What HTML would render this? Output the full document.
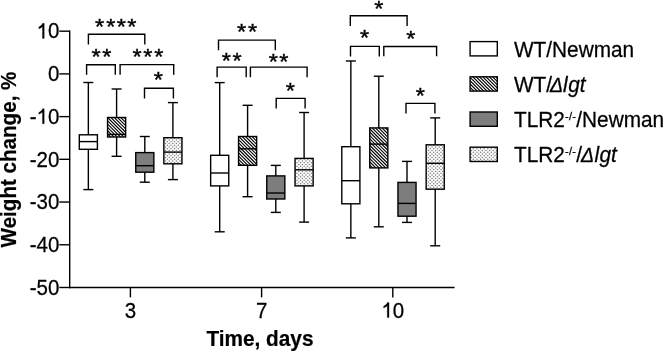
<!DOCTYPE html>
<html><head><meta charset="utf-8"><style>
html,body{margin:0;padding:0;background:#fff;overflow:hidden;width:663px;height:351px;}
svg{display:block;will-change:transform;}
text{font-family:"Liberation Sans",sans-serif;}
</style></head><body>
<svg width="663" height="351" viewBox="0 0 663 351">
<rect width="663" height="351" fill="#fff"/>

<g stroke="#000" stroke-width="1.4" fill="none" stroke-linecap="butt">
<line x1="69.7" y1="30.5" x2="69.7" y2="288.2" />
<line x1="69" y1="287.5" x2="454.6" y2="287.5" />
<line x1="59.3" y1="31.18" x2="69.7" y2="31.18" />
<line x1="59.3" y1="73.90" x2="69.7" y2="73.90" />
<line x1="59.3" y1="116.62" x2="69.7" y2="116.62" />
<line x1="59.3" y1="159.33" x2="69.7" y2="159.33" />
<line x1="59.3" y1="202.05" x2="69.7" y2="202.05" />
<line x1="59.3" y1="244.77" x2="69.7" y2="244.77" />
<line x1="59.3" y1="287.49" x2="69.7" y2="287.49" />
<line x1="130.4" y1="287.5" x2="130.4" y2="297.4" />
<line x1="261.6" y1="287.5" x2="261.6" y2="297.4" />
<line x1="392.8" y1="287.5" x2="392.8" y2="297.4" />
<line x1="88.35" y1="82.5" x2="88.35" y2="134.8" />
<line x1="88.35" y1="149.3" x2="88.35" y2="189.6" />
<line x1="83.35" y1="82.5" x2="93.35" y2="82.5" />
<line x1="83.35" y1="189.6" x2="93.35" y2="189.6" />
<rect x="79.30" y="134.80" width="18.10" height="14.50" fill="#fff" stroke="none"/>
<rect x="79.30" y="134.8" width="18.10" height="14.50" fill="none" />
<line x1="79.30" y1="141.6" x2="97.40" y2="141.6" />
<line x1="116.6" y1="89.0" x2="116.6" y2="117.5" />
<line x1="116.6" y1="137.0" x2="116.6" y2="156.3" />
<line x1="111.6" y1="89.0" x2="121.6" y2="89.0" />
<line x1="111.6" y1="156.3" x2="121.6" y2="156.3" />
<g clip-path="url(#c1)"><rect x="107.55" y="117.50" width="18.10" height="19.50" fill="#fff" stroke="none"/><path d="M82.50 115.50L106.00 139.00M85.80 115.50L109.30 139.00M89.10 115.50L112.60 139.00M92.40 115.50L115.90 139.00M95.70 115.50L119.20 139.00M99.00 115.50L122.50 139.00M102.30 115.50L125.80 139.00M105.60 115.50L129.10 139.00M108.90 115.50L132.40 139.00M112.20 115.50L135.70 139.00M115.50 115.50L139.00 139.00M118.80 115.50L142.30 139.00M122.10 115.50L145.60 139.00M125.40 115.50L148.90 139.00M128.70 115.50L152.20 139.00" stroke="#000" stroke-width="1.15" fill="none"/></g>
<rect x="107.55" y="117.5" width="18.10" height="19.50" fill="none" />
<line x1="107.55" y1="134.4" x2="125.65" y2="134.4" />
<line x1="144.8" y1="136.5" x2="144.8" y2="152.6" />
<line x1="144.8" y1="172.2" x2="144.8" y2="182.2" />
<line x1="139.8" y1="136.5" x2="149.8" y2="136.5" />
<line x1="139.8" y1="182.2" x2="149.8" y2="182.2" />
<rect x="135.75" y="152.60" width="18.10" height="19.60" fill="#7d7d7d" stroke="none"/>
<rect x="135.75" y="152.6" width="18.10" height="19.60" fill="none" />
<line x1="135.75" y1="165.7" x2="153.85" y2="165.7" />
<line x1="172.9" y1="102.6" x2="172.9" y2="137.7" />
<line x1="172.9" y1="163.8" x2="172.9" y2="179.6" />
<line x1="167.9" y1="102.6" x2="177.9" y2="102.6" />
<line x1="167.9" y1="179.6" x2="177.9" y2="179.6" />
<g clip-path="url(#c2)"><rect x="163.85" y="137.70" width="18.10" height="26.10" fill="#fff" stroke="none"/><path d="M159.40 134.75a0.8 0.8 0 1 0 1.60 0a0.8 0.8 0 1 0 -1.60 0M163.00 134.75a0.8 0.8 0 1 0 1.60 0a0.8 0.8 0 1 0 -1.60 0M166.60 134.75a0.8 0.8 0 1 0 1.60 0a0.8 0.8 0 1 0 -1.60 0M170.20 134.75a0.8 0.8 0 1 0 1.60 0a0.8 0.8 0 1 0 -1.60 0M173.80 134.75a0.8 0.8 0 1 0 1.60 0a0.8 0.8 0 1 0 -1.60 0M177.40 134.75a0.8 0.8 0 1 0 1.60 0a0.8 0.8 0 1 0 -1.60 0M181.00 134.75a0.8 0.8 0 1 0 1.60 0a0.8 0.8 0 1 0 -1.60 0M184.60 134.75a0.8 0.8 0 1 0 1.60 0a0.8 0.8 0 1 0 -1.60 0M188.20 134.75a0.8 0.8 0 1 0 1.60 0a0.8 0.8 0 1 0 -1.60 0M157.60 136.50a0.8 0.8 0 1 0 1.60 0a0.8 0.8 0 1 0 -1.60 0M161.20 136.50a0.8 0.8 0 1 0 1.60 0a0.8 0.8 0 1 0 -1.60 0M164.80 136.50a0.8 0.8 0 1 0 1.60 0a0.8 0.8 0 1 0 -1.60 0M168.40 136.50a0.8 0.8 0 1 0 1.60 0a0.8 0.8 0 1 0 -1.60 0M172.00 136.50a0.8 0.8 0 1 0 1.60 0a0.8 0.8 0 1 0 -1.60 0M175.60 136.50a0.8 0.8 0 1 0 1.60 0a0.8 0.8 0 1 0 -1.60 0M179.20 136.50a0.8 0.8 0 1 0 1.60 0a0.8 0.8 0 1 0 -1.60 0M182.80 136.50a0.8 0.8 0 1 0 1.60 0a0.8 0.8 0 1 0 -1.60 0M186.40 136.50a0.8 0.8 0 1 0 1.60 0a0.8 0.8 0 1 0 -1.60 0M159.40 138.25a0.8 0.8 0 1 0 1.60 0a0.8 0.8 0 1 0 -1.60 0M163.00 138.25a0.8 0.8 0 1 0 1.60 0a0.8 0.8 0 1 0 -1.60 0M166.60 138.25a0.8 0.8 0 1 0 1.60 0a0.8 0.8 0 1 0 -1.60 0M170.20 138.25a0.8 0.8 0 1 0 1.60 0a0.8 0.8 0 1 0 -1.60 0M173.80 138.25a0.8 0.8 0 1 0 1.60 0a0.8 0.8 0 1 0 -1.60 0M177.40 138.25a0.8 0.8 0 1 0 1.60 0a0.8 0.8 0 1 0 -1.60 0M181.00 138.25a0.8 0.8 0 1 0 1.60 0a0.8 0.8 0 1 0 -1.60 0M184.60 138.25a0.8 0.8 0 1 0 1.60 0a0.8 0.8 0 1 0 -1.60 0M188.20 138.25a0.8 0.8 0 1 0 1.60 0a0.8 0.8 0 1 0 -1.60 0M157.60 140.00a0.8 0.8 0 1 0 1.60 0a0.8 0.8 0 1 0 -1.60 0M161.20 140.00a0.8 0.8 0 1 0 1.60 0a0.8 0.8 0 1 0 -1.60 0M164.80 140.00a0.8 0.8 0 1 0 1.60 0a0.8 0.8 0 1 0 -1.60 0M168.40 140.00a0.8 0.8 0 1 0 1.60 0a0.8 0.8 0 1 0 -1.60 0M172.00 140.00a0.8 0.8 0 1 0 1.60 0a0.8 0.8 0 1 0 -1.60 0M175.60 140.00a0.8 0.8 0 1 0 1.60 0a0.8 0.8 0 1 0 -1.60 0M179.20 140.00a0.8 0.8 0 1 0 1.60 0a0.8 0.8 0 1 0 -1.60 0M182.80 140.00a0.8 0.8 0 1 0 1.60 0a0.8 0.8 0 1 0 -1.60 0M186.40 140.00a0.8 0.8 0 1 0 1.60 0a0.8 0.8 0 1 0 -1.60 0M159.40 141.75a0.8 0.8 0 1 0 1.60 0a0.8 0.8 0 1 0 -1.60 0M163.00 141.75a0.8 0.8 0 1 0 1.60 0a0.8 0.8 0 1 0 -1.60 0M166.60 141.75a0.8 0.8 0 1 0 1.60 0a0.8 0.8 0 1 0 -1.60 0M170.20 141.75a0.8 0.8 0 1 0 1.60 0a0.8 0.8 0 1 0 -1.60 0M173.80 141.75a0.8 0.8 0 1 0 1.60 0a0.8 0.8 0 1 0 -1.60 0M177.40 141.75a0.8 0.8 0 1 0 1.60 0a0.8 0.8 0 1 0 -1.60 0M181.00 141.75a0.8 0.8 0 1 0 1.60 0a0.8 0.8 0 1 0 -1.60 0M184.60 141.75a0.8 0.8 0 1 0 1.60 0a0.8 0.8 0 1 0 -1.60 0M188.20 141.75a0.8 0.8 0 1 0 1.60 0a0.8 0.8 0 1 0 -1.60 0M157.60 143.50a0.8 0.8 0 1 0 1.60 0a0.8 0.8 0 1 0 -1.60 0M161.20 143.50a0.8 0.8 0 1 0 1.60 0a0.8 0.8 0 1 0 -1.60 0M164.80 143.50a0.8 0.8 0 1 0 1.60 0a0.8 0.8 0 1 0 -1.60 0M168.40 143.50a0.8 0.8 0 1 0 1.60 0a0.8 0.8 0 1 0 -1.60 0M172.00 143.50a0.8 0.8 0 1 0 1.60 0a0.8 0.8 0 1 0 -1.60 0M175.60 143.50a0.8 0.8 0 1 0 1.60 0a0.8 0.8 0 1 0 -1.60 0M179.20 143.50a0.8 0.8 0 1 0 1.60 0a0.8 0.8 0 1 0 -1.60 0M182.80 143.50a0.8 0.8 0 1 0 1.60 0a0.8 0.8 0 1 0 -1.60 0M186.40 143.50a0.8 0.8 0 1 0 1.60 0a0.8 0.8 0 1 0 -1.60 0M159.40 145.25a0.8 0.8 0 1 0 1.60 0a0.8 0.8 0 1 0 -1.60 0M163.00 145.25a0.8 0.8 0 1 0 1.60 0a0.8 0.8 0 1 0 -1.60 0M166.60 145.25a0.8 0.8 0 1 0 1.60 0a0.8 0.8 0 1 0 -1.60 0M170.20 145.25a0.8 0.8 0 1 0 1.60 0a0.8 0.8 0 1 0 -1.60 0M173.80 145.25a0.8 0.8 0 1 0 1.60 0a0.8 0.8 0 1 0 -1.60 0M177.40 145.25a0.8 0.8 0 1 0 1.60 0a0.8 0.8 0 1 0 -1.60 0M181.00 145.25a0.8 0.8 0 1 0 1.60 0a0.8 0.8 0 1 0 -1.60 0M184.60 145.25a0.8 0.8 0 1 0 1.60 0a0.8 0.8 0 1 0 -1.60 0M188.20 145.25a0.8 0.8 0 1 0 1.60 0a0.8 0.8 0 1 0 -1.60 0M157.60 147.00a0.8 0.8 0 1 0 1.60 0a0.8 0.8 0 1 0 -1.60 0M161.20 147.00a0.8 0.8 0 1 0 1.60 0a0.8 0.8 0 1 0 -1.60 0M164.80 147.00a0.8 0.8 0 1 0 1.60 0a0.8 0.8 0 1 0 -1.60 0M168.40 147.00a0.8 0.8 0 1 0 1.60 0a0.8 0.8 0 1 0 -1.60 0M172.00 147.00a0.8 0.8 0 1 0 1.60 0a0.8 0.8 0 1 0 -1.60 0M175.60 147.00a0.8 0.8 0 1 0 1.60 0a0.8 0.8 0 1 0 -1.60 0M179.20 147.00a0.8 0.8 0 1 0 1.60 0a0.8 0.8 0 1 0 -1.60 0M182.80 147.00a0.8 0.8 0 1 0 1.60 0a0.8 0.8 0 1 0 -1.60 0M186.40 147.00a0.8 0.8 0 1 0 1.60 0a0.8 0.8 0 1 0 -1.60 0M159.40 148.75a0.8 0.8 0 1 0 1.60 0a0.8 0.8 0 1 0 -1.60 0M163.00 148.75a0.8 0.8 0 1 0 1.60 0a0.8 0.8 0 1 0 -1.60 0M166.60 148.75a0.8 0.8 0 1 0 1.60 0a0.8 0.8 0 1 0 -1.60 0M170.20 148.75a0.8 0.8 0 1 0 1.60 0a0.8 0.8 0 1 0 -1.60 0M173.80 148.75a0.8 0.8 0 1 0 1.60 0a0.8 0.8 0 1 0 -1.60 0M177.40 148.75a0.8 0.8 0 1 0 1.60 0a0.8 0.8 0 1 0 -1.60 0M181.00 148.75a0.8 0.8 0 1 0 1.60 0a0.8 0.8 0 1 0 -1.60 0M184.60 148.75a0.8 0.8 0 1 0 1.60 0a0.8 0.8 0 1 0 -1.60 0M188.20 148.75a0.8 0.8 0 1 0 1.60 0a0.8 0.8 0 1 0 -1.60 0M157.60 150.50a0.8 0.8 0 1 0 1.60 0a0.8 0.8 0 1 0 -1.60 0M161.20 150.50a0.8 0.8 0 1 0 1.60 0a0.8 0.8 0 1 0 -1.60 0M164.80 150.50a0.8 0.8 0 1 0 1.60 0a0.8 0.8 0 1 0 -1.60 0M168.40 150.50a0.8 0.8 0 1 0 1.60 0a0.8 0.8 0 1 0 -1.60 0M172.00 150.50a0.8 0.8 0 1 0 1.60 0a0.8 0.8 0 1 0 -1.60 0M175.60 150.50a0.8 0.8 0 1 0 1.60 0a0.8 0.8 0 1 0 -1.60 0M179.20 150.50a0.8 0.8 0 1 0 1.60 0a0.8 0.8 0 1 0 -1.60 0M182.80 150.50a0.8 0.8 0 1 0 1.60 0a0.8 0.8 0 1 0 -1.60 0M186.40 150.50a0.8 0.8 0 1 0 1.60 0a0.8 0.8 0 1 0 -1.60 0M159.40 152.25a0.8 0.8 0 1 0 1.60 0a0.8 0.8 0 1 0 -1.60 0M163.00 152.25a0.8 0.8 0 1 0 1.60 0a0.8 0.8 0 1 0 -1.60 0M166.60 152.25a0.8 0.8 0 1 0 1.60 0a0.8 0.8 0 1 0 -1.60 0M170.20 152.25a0.8 0.8 0 1 0 1.60 0a0.8 0.8 0 1 0 -1.60 0M173.80 152.25a0.8 0.8 0 1 0 1.60 0a0.8 0.8 0 1 0 -1.60 0M177.40 152.25a0.8 0.8 0 1 0 1.60 0a0.8 0.8 0 1 0 -1.60 0M181.00 152.25a0.8 0.8 0 1 0 1.60 0a0.8 0.8 0 1 0 -1.60 0M184.60 152.25a0.8 0.8 0 1 0 1.60 0a0.8 0.8 0 1 0 -1.60 0M188.20 152.25a0.8 0.8 0 1 0 1.60 0a0.8 0.8 0 1 0 -1.60 0M157.60 154.00a0.8 0.8 0 1 0 1.60 0a0.8 0.8 0 1 0 -1.60 0M161.20 154.00a0.8 0.8 0 1 0 1.60 0a0.8 0.8 0 1 0 -1.60 0M164.80 154.00a0.8 0.8 0 1 0 1.60 0a0.8 0.8 0 1 0 -1.60 0M168.40 154.00a0.8 0.8 0 1 0 1.60 0a0.8 0.8 0 1 0 -1.60 0M172.00 154.00a0.8 0.8 0 1 0 1.60 0a0.8 0.8 0 1 0 -1.60 0M175.60 154.00a0.8 0.8 0 1 0 1.60 0a0.8 0.8 0 1 0 -1.60 0M179.20 154.00a0.8 0.8 0 1 0 1.60 0a0.8 0.8 0 1 0 -1.60 0M182.80 154.00a0.8 0.8 0 1 0 1.60 0a0.8 0.8 0 1 0 -1.60 0M186.40 154.00a0.8 0.8 0 1 0 1.60 0a0.8 0.8 0 1 0 -1.60 0M159.40 155.75a0.8 0.8 0 1 0 1.60 0a0.8 0.8 0 1 0 -1.60 0M163.00 155.75a0.8 0.8 0 1 0 1.60 0a0.8 0.8 0 1 0 -1.60 0M166.60 155.75a0.8 0.8 0 1 0 1.60 0a0.8 0.8 0 1 0 -1.60 0M170.20 155.75a0.8 0.8 0 1 0 1.60 0a0.8 0.8 0 1 0 -1.60 0M173.80 155.75a0.8 0.8 0 1 0 1.60 0a0.8 0.8 0 1 0 -1.60 0M177.40 155.75a0.8 0.8 0 1 0 1.60 0a0.8 0.8 0 1 0 -1.60 0M181.00 155.75a0.8 0.8 0 1 0 1.60 0a0.8 0.8 0 1 0 -1.60 0M184.60 155.75a0.8 0.8 0 1 0 1.60 0a0.8 0.8 0 1 0 -1.60 0M188.20 155.75a0.8 0.8 0 1 0 1.60 0a0.8 0.8 0 1 0 -1.60 0M157.60 157.50a0.8 0.8 0 1 0 1.60 0a0.8 0.8 0 1 0 -1.60 0M161.20 157.50a0.8 0.8 0 1 0 1.60 0a0.8 0.8 0 1 0 -1.60 0M164.80 157.50a0.8 0.8 0 1 0 1.60 0a0.8 0.8 0 1 0 -1.60 0M168.40 157.50a0.8 0.8 0 1 0 1.60 0a0.8 0.8 0 1 0 -1.60 0M172.00 157.50a0.8 0.8 0 1 0 1.60 0a0.8 0.8 0 1 0 -1.60 0M175.60 157.50a0.8 0.8 0 1 0 1.60 0a0.8 0.8 0 1 0 -1.60 0M179.20 157.50a0.8 0.8 0 1 0 1.60 0a0.8 0.8 0 1 0 -1.60 0M182.80 157.50a0.8 0.8 0 1 0 1.60 0a0.8 0.8 0 1 0 -1.60 0M186.40 157.50a0.8 0.8 0 1 0 1.60 0a0.8 0.8 0 1 0 -1.60 0M159.40 159.25a0.8 0.8 0 1 0 1.60 0a0.8 0.8 0 1 0 -1.60 0M163.00 159.25a0.8 0.8 0 1 0 1.60 0a0.8 0.8 0 1 0 -1.60 0M166.60 159.25a0.8 0.8 0 1 0 1.60 0a0.8 0.8 0 1 0 -1.60 0M170.20 159.25a0.8 0.8 0 1 0 1.60 0a0.8 0.8 0 1 0 -1.60 0M173.80 159.25a0.8 0.8 0 1 0 1.60 0a0.8 0.8 0 1 0 -1.60 0M177.40 159.25a0.8 0.8 0 1 0 1.60 0a0.8 0.8 0 1 0 -1.60 0M181.00 159.25a0.8 0.8 0 1 0 1.60 0a0.8 0.8 0 1 0 -1.60 0M184.60 159.25a0.8 0.8 0 1 0 1.60 0a0.8 0.8 0 1 0 -1.60 0M188.20 159.25a0.8 0.8 0 1 0 1.60 0a0.8 0.8 0 1 0 -1.60 0M157.60 161.00a0.8 0.8 0 1 0 1.60 0a0.8 0.8 0 1 0 -1.60 0M161.20 161.00a0.8 0.8 0 1 0 1.60 0a0.8 0.8 0 1 0 -1.60 0M164.80 161.00a0.8 0.8 0 1 0 1.60 0a0.8 0.8 0 1 0 -1.60 0M168.40 161.00a0.8 0.8 0 1 0 1.60 0a0.8 0.8 0 1 0 -1.60 0M172.00 161.00a0.8 0.8 0 1 0 1.60 0a0.8 0.8 0 1 0 -1.60 0M175.60 161.00a0.8 0.8 0 1 0 1.60 0a0.8 0.8 0 1 0 -1.60 0M179.20 161.00a0.8 0.8 0 1 0 1.60 0a0.8 0.8 0 1 0 -1.60 0M182.80 161.00a0.8 0.8 0 1 0 1.60 0a0.8 0.8 0 1 0 -1.60 0M186.40 161.00a0.8 0.8 0 1 0 1.60 0a0.8 0.8 0 1 0 -1.60 0M159.40 162.75a0.8 0.8 0 1 0 1.60 0a0.8 0.8 0 1 0 -1.60 0M163.00 162.75a0.8 0.8 0 1 0 1.60 0a0.8 0.8 0 1 0 -1.60 0M166.60 162.75a0.8 0.8 0 1 0 1.60 0a0.8 0.8 0 1 0 -1.60 0M170.20 162.75a0.8 0.8 0 1 0 1.60 0a0.8 0.8 0 1 0 -1.60 0M173.80 162.75a0.8 0.8 0 1 0 1.60 0a0.8 0.8 0 1 0 -1.60 0M177.40 162.75a0.8 0.8 0 1 0 1.60 0a0.8 0.8 0 1 0 -1.60 0M181.00 162.75a0.8 0.8 0 1 0 1.60 0a0.8 0.8 0 1 0 -1.60 0M184.60 162.75a0.8 0.8 0 1 0 1.60 0a0.8 0.8 0 1 0 -1.60 0M188.20 162.75a0.8 0.8 0 1 0 1.60 0a0.8 0.8 0 1 0 -1.60 0M157.60 164.50a0.8 0.8 0 1 0 1.60 0a0.8 0.8 0 1 0 -1.60 0M161.20 164.50a0.8 0.8 0 1 0 1.60 0a0.8 0.8 0 1 0 -1.60 0M164.80 164.50a0.8 0.8 0 1 0 1.60 0a0.8 0.8 0 1 0 -1.60 0M168.40 164.50a0.8 0.8 0 1 0 1.60 0a0.8 0.8 0 1 0 -1.60 0M172.00 164.50a0.8 0.8 0 1 0 1.60 0a0.8 0.8 0 1 0 -1.60 0M175.60 164.50a0.8 0.8 0 1 0 1.60 0a0.8 0.8 0 1 0 -1.60 0M179.20 164.50a0.8 0.8 0 1 0 1.60 0a0.8 0.8 0 1 0 -1.60 0M182.80 164.50a0.8 0.8 0 1 0 1.60 0a0.8 0.8 0 1 0 -1.60 0M186.40 164.50a0.8 0.8 0 1 0 1.60 0a0.8 0.8 0 1 0 -1.60 0M159.40 166.25a0.8 0.8 0 1 0 1.60 0a0.8 0.8 0 1 0 -1.60 0M163.00 166.25a0.8 0.8 0 1 0 1.60 0a0.8 0.8 0 1 0 -1.60 0M166.60 166.25a0.8 0.8 0 1 0 1.60 0a0.8 0.8 0 1 0 -1.60 0M170.20 166.25a0.8 0.8 0 1 0 1.60 0a0.8 0.8 0 1 0 -1.60 0M173.80 166.25a0.8 0.8 0 1 0 1.60 0a0.8 0.8 0 1 0 -1.60 0M177.40 166.25a0.8 0.8 0 1 0 1.60 0a0.8 0.8 0 1 0 -1.60 0M181.00 166.25a0.8 0.8 0 1 0 1.60 0a0.8 0.8 0 1 0 -1.60 0M184.60 166.25a0.8 0.8 0 1 0 1.60 0a0.8 0.8 0 1 0 -1.60 0M188.20 166.25a0.8 0.8 0 1 0 1.60 0a0.8 0.8 0 1 0 -1.60 0" fill="#808080" stroke="none"/></g>
<rect x="163.85" y="137.7" width="18.10" height="26.10" fill="none" />
<line x1="163.85" y1="152.1" x2="181.95" y2="152.1" />
<line x1="219.7" y1="82.6" x2="219.7" y2="155.3" />
<line x1="219.7" y1="185.9" x2="219.7" y2="231.8" />
<line x1="214.7" y1="82.6" x2="224.7" y2="82.6" />
<line x1="214.7" y1="231.8" x2="224.7" y2="231.8" />
<rect x="210.65" y="155.30" width="18.10" height="30.60" fill="#fff" stroke="none"/>
<rect x="210.65" y="155.3" width="18.10" height="30.60" fill="none" />
<line x1="210.65" y1="173.0" x2="228.75" y2="173.0" />
<line x1="247.6" y1="105.3" x2="247.6" y2="136.5" />
<line x1="247.6" y1="165.3" x2="247.6" y2="196.7" />
<line x1="242.6" y1="105.3" x2="252.6" y2="105.3" />
<line x1="242.6" y1="196.7" x2="252.6" y2="196.7" />
<g clip-path="url(#c3)"><rect x="238.55" y="136.50" width="18.10" height="28.80" fill="#fff" stroke="none"/><path d="M203.80 134.50L236.60 167.30M207.10 134.50L239.90 167.30M210.40 134.50L243.20 167.30M213.70 134.50L246.50 167.30M217.00 134.50L249.80 167.30M220.30 134.50L253.10 167.30M223.60 134.50L256.40 167.30M226.90 134.50L259.70 167.30M230.20 134.50L263.00 167.30M233.50 134.50L266.30 167.30M236.80 134.50L269.60 167.30M240.10 134.50L272.90 167.30M243.40 134.50L276.20 167.30M246.70 134.50L279.50 167.30M250.00 134.50L282.80 167.30M253.30 134.50L286.10 167.30M256.60 134.50L289.40 167.30M259.90 134.50L292.70 167.30" stroke="#000" stroke-width="1.15" fill="none"/></g>
<rect x="238.55" y="136.5" width="18.10" height="28.80" fill="none" />
<line x1="238.55" y1="148.8" x2="256.65" y2="148.8" />
<line x1="275.8" y1="165.4" x2="275.8" y2="175.9" />
<line x1="275.8" y1="199.0" x2="275.8" y2="212.4" />
<line x1="270.8" y1="165.4" x2="280.8" y2="165.4" />
<line x1="270.8" y1="212.4" x2="280.8" y2="212.4" />
<rect x="266.75" y="175.90" width="18.10" height="23.10" fill="#7d7d7d" stroke="none"/>
<rect x="266.75" y="175.9" width="18.10" height="23.10" fill="none" />
<line x1="266.75" y1="193.0" x2="284.85" y2="193.0" />
<line x1="304.1" y1="112.5" x2="304.1" y2="158.4" />
<line x1="304.1" y1="185.9" x2="304.1" y2="222.1" />
<line x1="299.1" y1="112.5" x2="309.1" y2="112.5" />
<line x1="299.1" y1="222.1" x2="309.1" y2="222.1" />
<g clip-path="url(#c4)"><rect x="295.05" y="158.40" width="18.10" height="27.50" fill="#fff" stroke="none"/><path d="M289.00 155.75a0.8 0.8 0 1 0 1.60 0a0.8 0.8 0 1 0 -1.60 0M292.60 155.75a0.8 0.8 0 1 0 1.60 0a0.8 0.8 0 1 0 -1.60 0M296.20 155.75a0.8 0.8 0 1 0 1.60 0a0.8 0.8 0 1 0 -1.60 0M299.80 155.75a0.8 0.8 0 1 0 1.60 0a0.8 0.8 0 1 0 -1.60 0M303.40 155.75a0.8 0.8 0 1 0 1.60 0a0.8 0.8 0 1 0 -1.60 0M307.00 155.75a0.8 0.8 0 1 0 1.60 0a0.8 0.8 0 1 0 -1.60 0M310.60 155.75a0.8 0.8 0 1 0 1.60 0a0.8 0.8 0 1 0 -1.60 0M314.20 155.75a0.8 0.8 0 1 0 1.60 0a0.8 0.8 0 1 0 -1.60 0M317.80 155.75a0.8 0.8 0 1 0 1.60 0a0.8 0.8 0 1 0 -1.60 0M287.20 157.50a0.8 0.8 0 1 0 1.60 0a0.8 0.8 0 1 0 -1.60 0M290.80 157.50a0.8 0.8 0 1 0 1.60 0a0.8 0.8 0 1 0 -1.60 0M294.40 157.50a0.8 0.8 0 1 0 1.60 0a0.8 0.8 0 1 0 -1.60 0M298.00 157.50a0.8 0.8 0 1 0 1.60 0a0.8 0.8 0 1 0 -1.60 0M301.60 157.50a0.8 0.8 0 1 0 1.60 0a0.8 0.8 0 1 0 -1.60 0M305.20 157.50a0.8 0.8 0 1 0 1.60 0a0.8 0.8 0 1 0 -1.60 0M308.80 157.50a0.8 0.8 0 1 0 1.60 0a0.8 0.8 0 1 0 -1.60 0M312.40 157.50a0.8 0.8 0 1 0 1.60 0a0.8 0.8 0 1 0 -1.60 0M316.00 157.50a0.8 0.8 0 1 0 1.60 0a0.8 0.8 0 1 0 -1.60 0M289.00 159.25a0.8 0.8 0 1 0 1.60 0a0.8 0.8 0 1 0 -1.60 0M292.60 159.25a0.8 0.8 0 1 0 1.60 0a0.8 0.8 0 1 0 -1.60 0M296.20 159.25a0.8 0.8 0 1 0 1.60 0a0.8 0.8 0 1 0 -1.60 0M299.80 159.25a0.8 0.8 0 1 0 1.60 0a0.8 0.8 0 1 0 -1.60 0M303.40 159.25a0.8 0.8 0 1 0 1.60 0a0.8 0.8 0 1 0 -1.60 0M307.00 159.25a0.8 0.8 0 1 0 1.60 0a0.8 0.8 0 1 0 -1.60 0M310.60 159.25a0.8 0.8 0 1 0 1.60 0a0.8 0.8 0 1 0 -1.60 0M314.20 159.25a0.8 0.8 0 1 0 1.60 0a0.8 0.8 0 1 0 -1.60 0M317.80 159.25a0.8 0.8 0 1 0 1.60 0a0.8 0.8 0 1 0 -1.60 0M287.20 161.00a0.8 0.8 0 1 0 1.60 0a0.8 0.8 0 1 0 -1.60 0M290.80 161.00a0.8 0.8 0 1 0 1.60 0a0.8 0.8 0 1 0 -1.60 0M294.40 161.00a0.8 0.8 0 1 0 1.60 0a0.8 0.8 0 1 0 -1.60 0M298.00 161.00a0.8 0.8 0 1 0 1.60 0a0.8 0.8 0 1 0 -1.60 0M301.60 161.00a0.8 0.8 0 1 0 1.60 0a0.8 0.8 0 1 0 -1.60 0M305.20 161.00a0.8 0.8 0 1 0 1.60 0a0.8 0.8 0 1 0 -1.60 0M308.80 161.00a0.8 0.8 0 1 0 1.60 0a0.8 0.8 0 1 0 -1.60 0M312.40 161.00a0.8 0.8 0 1 0 1.60 0a0.8 0.8 0 1 0 -1.60 0M316.00 161.00a0.8 0.8 0 1 0 1.60 0a0.8 0.8 0 1 0 -1.60 0M289.00 162.75a0.8 0.8 0 1 0 1.60 0a0.8 0.8 0 1 0 -1.60 0M292.60 162.75a0.8 0.8 0 1 0 1.60 0a0.8 0.8 0 1 0 -1.60 0M296.20 162.75a0.8 0.8 0 1 0 1.60 0a0.8 0.8 0 1 0 -1.60 0M299.80 162.75a0.8 0.8 0 1 0 1.60 0a0.8 0.8 0 1 0 -1.60 0M303.40 162.75a0.8 0.8 0 1 0 1.60 0a0.8 0.8 0 1 0 -1.60 0M307.00 162.75a0.8 0.8 0 1 0 1.60 0a0.8 0.8 0 1 0 -1.60 0M310.60 162.75a0.8 0.8 0 1 0 1.60 0a0.8 0.8 0 1 0 -1.60 0M314.20 162.75a0.8 0.8 0 1 0 1.60 0a0.8 0.8 0 1 0 -1.60 0M317.80 162.75a0.8 0.8 0 1 0 1.60 0a0.8 0.8 0 1 0 -1.60 0M287.20 164.50a0.8 0.8 0 1 0 1.60 0a0.8 0.8 0 1 0 -1.60 0M290.80 164.50a0.8 0.8 0 1 0 1.60 0a0.8 0.8 0 1 0 -1.60 0M294.40 164.50a0.8 0.8 0 1 0 1.60 0a0.8 0.8 0 1 0 -1.60 0M298.00 164.50a0.8 0.8 0 1 0 1.60 0a0.8 0.8 0 1 0 -1.60 0M301.60 164.50a0.8 0.8 0 1 0 1.60 0a0.8 0.8 0 1 0 -1.60 0M305.20 164.50a0.8 0.8 0 1 0 1.60 0a0.8 0.8 0 1 0 -1.60 0M308.80 164.50a0.8 0.8 0 1 0 1.60 0a0.8 0.8 0 1 0 -1.60 0M312.40 164.50a0.8 0.8 0 1 0 1.60 0a0.8 0.8 0 1 0 -1.60 0M316.00 164.50a0.8 0.8 0 1 0 1.60 0a0.8 0.8 0 1 0 -1.60 0M289.00 166.25a0.8 0.8 0 1 0 1.60 0a0.8 0.8 0 1 0 -1.60 0M292.60 166.25a0.8 0.8 0 1 0 1.60 0a0.8 0.8 0 1 0 -1.60 0M296.20 166.25a0.8 0.8 0 1 0 1.60 0a0.8 0.8 0 1 0 -1.60 0M299.80 166.25a0.8 0.8 0 1 0 1.60 0a0.8 0.8 0 1 0 -1.60 0M303.40 166.25a0.8 0.8 0 1 0 1.60 0a0.8 0.8 0 1 0 -1.60 0M307.00 166.25a0.8 0.8 0 1 0 1.60 0a0.8 0.8 0 1 0 -1.60 0M310.60 166.25a0.8 0.8 0 1 0 1.60 0a0.8 0.8 0 1 0 -1.60 0M314.20 166.25a0.8 0.8 0 1 0 1.60 0a0.8 0.8 0 1 0 -1.60 0M317.80 166.25a0.8 0.8 0 1 0 1.60 0a0.8 0.8 0 1 0 -1.60 0M287.20 168.00a0.8 0.8 0 1 0 1.60 0a0.8 0.8 0 1 0 -1.60 0M290.80 168.00a0.8 0.8 0 1 0 1.60 0a0.8 0.8 0 1 0 -1.60 0M294.40 168.00a0.8 0.8 0 1 0 1.60 0a0.8 0.8 0 1 0 -1.60 0M298.00 168.00a0.8 0.8 0 1 0 1.60 0a0.8 0.8 0 1 0 -1.60 0M301.60 168.00a0.8 0.8 0 1 0 1.60 0a0.8 0.8 0 1 0 -1.60 0M305.20 168.00a0.8 0.8 0 1 0 1.60 0a0.8 0.8 0 1 0 -1.60 0M308.80 168.00a0.8 0.8 0 1 0 1.60 0a0.8 0.8 0 1 0 -1.60 0M312.40 168.00a0.8 0.8 0 1 0 1.60 0a0.8 0.8 0 1 0 -1.60 0M316.00 168.00a0.8 0.8 0 1 0 1.60 0a0.8 0.8 0 1 0 -1.60 0M289.00 169.75a0.8 0.8 0 1 0 1.60 0a0.8 0.8 0 1 0 -1.60 0M292.60 169.75a0.8 0.8 0 1 0 1.60 0a0.8 0.8 0 1 0 -1.60 0M296.20 169.75a0.8 0.8 0 1 0 1.60 0a0.8 0.8 0 1 0 -1.60 0M299.80 169.75a0.8 0.8 0 1 0 1.60 0a0.8 0.8 0 1 0 -1.60 0M303.40 169.75a0.8 0.8 0 1 0 1.60 0a0.8 0.8 0 1 0 -1.60 0M307.00 169.75a0.8 0.8 0 1 0 1.60 0a0.8 0.8 0 1 0 -1.60 0M310.60 169.75a0.8 0.8 0 1 0 1.60 0a0.8 0.8 0 1 0 -1.60 0M314.20 169.75a0.8 0.8 0 1 0 1.60 0a0.8 0.8 0 1 0 -1.60 0M317.80 169.75a0.8 0.8 0 1 0 1.60 0a0.8 0.8 0 1 0 -1.60 0M287.20 171.50a0.8 0.8 0 1 0 1.60 0a0.8 0.8 0 1 0 -1.60 0M290.80 171.50a0.8 0.8 0 1 0 1.60 0a0.8 0.8 0 1 0 -1.60 0M294.40 171.50a0.8 0.8 0 1 0 1.60 0a0.8 0.8 0 1 0 -1.60 0M298.00 171.50a0.8 0.8 0 1 0 1.60 0a0.8 0.8 0 1 0 -1.60 0M301.60 171.50a0.8 0.8 0 1 0 1.60 0a0.8 0.8 0 1 0 -1.60 0M305.20 171.50a0.8 0.8 0 1 0 1.60 0a0.8 0.8 0 1 0 -1.60 0M308.80 171.50a0.8 0.8 0 1 0 1.60 0a0.8 0.8 0 1 0 -1.60 0M312.40 171.50a0.8 0.8 0 1 0 1.60 0a0.8 0.8 0 1 0 -1.60 0M316.00 171.50a0.8 0.8 0 1 0 1.60 0a0.8 0.8 0 1 0 -1.60 0M289.00 173.25a0.8 0.8 0 1 0 1.60 0a0.8 0.8 0 1 0 -1.60 0M292.60 173.25a0.8 0.8 0 1 0 1.60 0a0.8 0.8 0 1 0 -1.60 0M296.20 173.25a0.8 0.8 0 1 0 1.60 0a0.8 0.8 0 1 0 -1.60 0M299.80 173.25a0.8 0.8 0 1 0 1.60 0a0.8 0.8 0 1 0 -1.60 0M303.40 173.25a0.8 0.8 0 1 0 1.60 0a0.8 0.8 0 1 0 -1.60 0M307.00 173.25a0.8 0.8 0 1 0 1.60 0a0.8 0.8 0 1 0 -1.60 0M310.60 173.25a0.8 0.8 0 1 0 1.60 0a0.8 0.8 0 1 0 -1.60 0M314.20 173.25a0.8 0.8 0 1 0 1.60 0a0.8 0.8 0 1 0 -1.60 0M317.80 173.25a0.8 0.8 0 1 0 1.60 0a0.8 0.8 0 1 0 -1.60 0M287.20 175.00a0.8 0.8 0 1 0 1.60 0a0.8 0.8 0 1 0 -1.60 0M290.80 175.00a0.8 0.8 0 1 0 1.60 0a0.8 0.8 0 1 0 -1.60 0M294.40 175.00a0.8 0.8 0 1 0 1.60 0a0.8 0.8 0 1 0 -1.60 0M298.00 175.00a0.8 0.8 0 1 0 1.60 0a0.8 0.8 0 1 0 -1.60 0M301.60 175.00a0.8 0.8 0 1 0 1.60 0a0.8 0.8 0 1 0 -1.60 0M305.20 175.00a0.8 0.8 0 1 0 1.60 0a0.8 0.8 0 1 0 -1.60 0M308.80 175.00a0.8 0.8 0 1 0 1.60 0a0.8 0.8 0 1 0 -1.60 0M312.40 175.00a0.8 0.8 0 1 0 1.60 0a0.8 0.8 0 1 0 -1.60 0M316.00 175.00a0.8 0.8 0 1 0 1.60 0a0.8 0.8 0 1 0 -1.60 0M289.00 176.75a0.8 0.8 0 1 0 1.60 0a0.8 0.8 0 1 0 -1.60 0M292.60 176.75a0.8 0.8 0 1 0 1.60 0a0.8 0.8 0 1 0 -1.60 0M296.20 176.75a0.8 0.8 0 1 0 1.60 0a0.8 0.8 0 1 0 -1.60 0M299.80 176.75a0.8 0.8 0 1 0 1.60 0a0.8 0.8 0 1 0 -1.60 0M303.40 176.75a0.8 0.8 0 1 0 1.60 0a0.8 0.8 0 1 0 -1.60 0M307.00 176.75a0.8 0.8 0 1 0 1.60 0a0.8 0.8 0 1 0 -1.60 0M310.60 176.75a0.8 0.8 0 1 0 1.60 0a0.8 0.8 0 1 0 -1.60 0M314.20 176.75a0.8 0.8 0 1 0 1.60 0a0.8 0.8 0 1 0 -1.60 0M317.80 176.75a0.8 0.8 0 1 0 1.60 0a0.8 0.8 0 1 0 -1.60 0M287.20 178.50a0.8 0.8 0 1 0 1.60 0a0.8 0.8 0 1 0 -1.60 0M290.80 178.50a0.8 0.8 0 1 0 1.60 0a0.8 0.8 0 1 0 -1.60 0M294.40 178.50a0.8 0.8 0 1 0 1.60 0a0.8 0.8 0 1 0 -1.60 0M298.00 178.50a0.8 0.8 0 1 0 1.60 0a0.8 0.8 0 1 0 -1.60 0M301.60 178.50a0.8 0.8 0 1 0 1.60 0a0.8 0.8 0 1 0 -1.60 0M305.20 178.50a0.8 0.8 0 1 0 1.60 0a0.8 0.8 0 1 0 -1.60 0M308.80 178.50a0.8 0.8 0 1 0 1.60 0a0.8 0.8 0 1 0 -1.60 0M312.40 178.50a0.8 0.8 0 1 0 1.60 0a0.8 0.8 0 1 0 -1.60 0M316.00 178.50a0.8 0.8 0 1 0 1.60 0a0.8 0.8 0 1 0 -1.60 0M289.00 180.25a0.8 0.8 0 1 0 1.60 0a0.8 0.8 0 1 0 -1.60 0M292.60 180.25a0.8 0.8 0 1 0 1.60 0a0.8 0.8 0 1 0 -1.60 0M296.20 180.25a0.8 0.8 0 1 0 1.60 0a0.8 0.8 0 1 0 -1.60 0M299.80 180.25a0.8 0.8 0 1 0 1.60 0a0.8 0.8 0 1 0 -1.60 0M303.40 180.25a0.8 0.8 0 1 0 1.60 0a0.8 0.8 0 1 0 -1.60 0M307.00 180.25a0.8 0.8 0 1 0 1.60 0a0.8 0.8 0 1 0 -1.60 0M310.60 180.25a0.8 0.8 0 1 0 1.60 0a0.8 0.8 0 1 0 -1.60 0M314.20 180.25a0.8 0.8 0 1 0 1.60 0a0.8 0.8 0 1 0 -1.60 0M317.80 180.25a0.8 0.8 0 1 0 1.60 0a0.8 0.8 0 1 0 -1.60 0M287.20 182.00a0.8 0.8 0 1 0 1.60 0a0.8 0.8 0 1 0 -1.60 0M290.80 182.00a0.8 0.8 0 1 0 1.60 0a0.8 0.8 0 1 0 -1.60 0M294.40 182.00a0.8 0.8 0 1 0 1.60 0a0.8 0.8 0 1 0 -1.60 0M298.00 182.00a0.8 0.8 0 1 0 1.60 0a0.8 0.8 0 1 0 -1.60 0M301.60 182.00a0.8 0.8 0 1 0 1.60 0a0.8 0.8 0 1 0 -1.60 0M305.20 182.00a0.8 0.8 0 1 0 1.60 0a0.8 0.8 0 1 0 -1.60 0M308.80 182.00a0.8 0.8 0 1 0 1.60 0a0.8 0.8 0 1 0 -1.60 0M312.40 182.00a0.8 0.8 0 1 0 1.60 0a0.8 0.8 0 1 0 -1.60 0M316.00 182.00a0.8 0.8 0 1 0 1.60 0a0.8 0.8 0 1 0 -1.60 0M289.00 183.75a0.8 0.8 0 1 0 1.60 0a0.8 0.8 0 1 0 -1.60 0M292.60 183.75a0.8 0.8 0 1 0 1.60 0a0.8 0.8 0 1 0 -1.60 0M296.20 183.75a0.8 0.8 0 1 0 1.60 0a0.8 0.8 0 1 0 -1.60 0M299.80 183.75a0.8 0.8 0 1 0 1.60 0a0.8 0.8 0 1 0 -1.60 0M303.40 183.75a0.8 0.8 0 1 0 1.60 0a0.8 0.8 0 1 0 -1.60 0M307.00 183.75a0.8 0.8 0 1 0 1.60 0a0.8 0.8 0 1 0 -1.60 0M310.60 183.75a0.8 0.8 0 1 0 1.60 0a0.8 0.8 0 1 0 -1.60 0M314.20 183.75a0.8 0.8 0 1 0 1.60 0a0.8 0.8 0 1 0 -1.60 0M317.80 183.75a0.8 0.8 0 1 0 1.60 0a0.8 0.8 0 1 0 -1.60 0M287.20 185.50a0.8 0.8 0 1 0 1.60 0a0.8 0.8 0 1 0 -1.60 0M290.80 185.50a0.8 0.8 0 1 0 1.60 0a0.8 0.8 0 1 0 -1.60 0M294.40 185.50a0.8 0.8 0 1 0 1.60 0a0.8 0.8 0 1 0 -1.60 0M298.00 185.50a0.8 0.8 0 1 0 1.60 0a0.8 0.8 0 1 0 -1.60 0M301.60 185.50a0.8 0.8 0 1 0 1.60 0a0.8 0.8 0 1 0 -1.60 0M305.20 185.50a0.8 0.8 0 1 0 1.60 0a0.8 0.8 0 1 0 -1.60 0M308.80 185.50a0.8 0.8 0 1 0 1.60 0a0.8 0.8 0 1 0 -1.60 0M312.40 185.50a0.8 0.8 0 1 0 1.60 0a0.8 0.8 0 1 0 -1.60 0M316.00 185.50a0.8 0.8 0 1 0 1.60 0a0.8 0.8 0 1 0 -1.60 0M289.00 187.25a0.8 0.8 0 1 0 1.60 0a0.8 0.8 0 1 0 -1.60 0M292.60 187.25a0.8 0.8 0 1 0 1.60 0a0.8 0.8 0 1 0 -1.60 0M296.20 187.25a0.8 0.8 0 1 0 1.60 0a0.8 0.8 0 1 0 -1.60 0M299.80 187.25a0.8 0.8 0 1 0 1.60 0a0.8 0.8 0 1 0 -1.60 0M303.40 187.25a0.8 0.8 0 1 0 1.60 0a0.8 0.8 0 1 0 -1.60 0M307.00 187.25a0.8 0.8 0 1 0 1.60 0a0.8 0.8 0 1 0 -1.60 0M310.60 187.25a0.8 0.8 0 1 0 1.60 0a0.8 0.8 0 1 0 -1.60 0M314.20 187.25a0.8 0.8 0 1 0 1.60 0a0.8 0.8 0 1 0 -1.60 0M317.80 187.25a0.8 0.8 0 1 0 1.60 0a0.8 0.8 0 1 0 -1.60 0M287.20 189.00a0.8 0.8 0 1 0 1.60 0a0.8 0.8 0 1 0 -1.60 0M290.80 189.00a0.8 0.8 0 1 0 1.60 0a0.8 0.8 0 1 0 -1.60 0M294.40 189.00a0.8 0.8 0 1 0 1.60 0a0.8 0.8 0 1 0 -1.60 0M298.00 189.00a0.8 0.8 0 1 0 1.60 0a0.8 0.8 0 1 0 -1.60 0M301.60 189.00a0.8 0.8 0 1 0 1.60 0a0.8 0.8 0 1 0 -1.60 0M305.20 189.00a0.8 0.8 0 1 0 1.60 0a0.8 0.8 0 1 0 -1.60 0M308.80 189.00a0.8 0.8 0 1 0 1.60 0a0.8 0.8 0 1 0 -1.60 0M312.40 189.00a0.8 0.8 0 1 0 1.60 0a0.8 0.8 0 1 0 -1.60 0M316.00 189.00a0.8 0.8 0 1 0 1.60 0a0.8 0.8 0 1 0 -1.60 0" fill="#808080" stroke="none"/></g>
<rect x="295.05" y="158.4" width="18.10" height="27.50" fill="none" />
<line x1="295.05" y1="169.8" x2="313.15" y2="169.8" />
<line x1="350.85" y1="61.0" x2="350.85" y2="146.7" />
<line x1="350.85" y1="203.8" x2="350.85" y2="237.9" />
<line x1="345.85" y1="61.0" x2="355.85" y2="61.0" />
<line x1="345.85" y1="237.9" x2="355.85" y2="237.9" />
<rect x="341.80" y="146.70" width="18.10" height="57.10" fill="#fff" stroke="none"/>
<rect x="341.80" y="146.7" width="18.10" height="57.10" fill="none" />
<line x1="341.80" y1="180.7" x2="359.90" y2="180.7" />
<line x1="378.8" y1="76.2" x2="378.8" y2="127.9" />
<line x1="378.8" y1="167.9" x2="378.8" y2="226.8" />
<line x1="373.8" y1="76.2" x2="383.8" y2="76.2" />
<line x1="373.8" y1="226.8" x2="383.8" y2="226.8" />
<g clip-path="url(#c5)"><rect x="369.75" y="127.90" width="18.10" height="40.00" fill="#fff" stroke="none"/><path d="M323.90 125.90L367.90 169.90M327.20 125.90L371.20 169.90M330.50 125.90L374.50 169.90M333.80 125.90L377.80 169.90M337.10 125.90L381.10 169.90M340.40 125.90L384.40 169.90M343.70 125.90L387.70 169.90M347.00 125.90L391.00 169.90M350.30 125.90L394.30 169.90M353.60 125.90L397.60 169.90M356.90 125.90L400.90 169.90M360.20 125.90L404.20 169.90M363.50 125.90L407.50 169.90M366.80 125.90L410.80 169.90M370.10 125.90L414.10 169.90M373.40 125.90L417.40 169.90M376.70 125.90L420.70 169.90M380.00 125.90L424.00 169.90M383.30 125.90L427.30 169.90M386.60 125.90L430.60 169.90M389.90 125.90L433.90 169.90" stroke="#000" stroke-width="1.15" fill="none"/></g>
<rect x="369.75" y="127.9" width="18.10" height="40.00" fill="none" />
<line x1="369.75" y1="144.1" x2="387.85" y2="144.1" />
<line x1="407.0" y1="161.4" x2="407.0" y2="182.4" />
<line x1="407.0" y1="216.2" x2="407.0" y2="222.4" />
<line x1="402.0" y1="161.4" x2="412.0" y2="161.4" />
<line x1="402.0" y1="222.4" x2="412.0" y2="222.4" />
<rect x="397.95" y="182.40" width="18.10" height="33.80" fill="#7d7d7d" stroke="none"/>
<rect x="397.95" y="182.4" width="18.10" height="33.80" fill="none" />
<line x1="397.95" y1="203.4" x2="416.05" y2="203.4" />
<line x1="435.2" y1="117.9" x2="435.2" y2="144.8" />
<line x1="435.2" y1="189.2" x2="435.2" y2="245.8" />
<line x1="430.2" y1="117.9" x2="440.2" y2="117.9" />
<line x1="430.2" y1="245.8" x2="440.2" y2="245.8" />
<g clip-path="url(#c6)"><rect x="426.15" y="144.80" width="18.10" height="44.40" fill="#fff" stroke="none"/><path d="M418.60 141.75a0.8 0.8 0 1 0 1.60 0a0.8 0.8 0 1 0 -1.60 0M422.20 141.75a0.8 0.8 0 1 0 1.60 0a0.8 0.8 0 1 0 -1.60 0M425.80 141.75a0.8 0.8 0 1 0 1.60 0a0.8 0.8 0 1 0 -1.60 0M429.40 141.75a0.8 0.8 0 1 0 1.60 0a0.8 0.8 0 1 0 -1.60 0M433.00 141.75a0.8 0.8 0 1 0 1.60 0a0.8 0.8 0 1 0 -1.60 0M436.60 141.75a0.8 0.8 0 1 0 1.60 0a0.8 0.8 0 1 0 -1.60 0M440.20 141.75a0.8 0.8 0 1 0 1.60 0a0.8 0.8 0 1 0 -1.60 0M443.80 141.75a0.8 0.8 0 1 0 1.60 0a0.8 0.8 0 1 0 -1.60 0M447.40 141.75a0.8 0.8 0 1 0 1.60 0a0.8 0.8 0 1 0 -1.60 0M420.40 143.50a0.8 0.8 0 1 0 1.60 0a0.8 0.8 0 1 0 -1.60 0M424.00 143.50a0.8 0.8 0 1 0 1.60 0a0.8 0.8 0 1 0 -1.60 0M427.60 143.50a0.8 0.8 0 1 0 1.60 0a0.8 0.8 0 1 0 -1.60 0M431.20 143.50a0.8 0.8 0 1 0 1.60 0a0.8 0.8 0 1 0 -1.60 0M434.80 143.50a0.8 0.8 0 1 0 1.60 0a0.8 0.8 0 1 0 -1.60 0M438.40 143.50a0.8 0.8 0 1 0 1.60 0a0.8 0.8 0 1 0 -1.60 0M442.00 143.50a0.8 0.8 0 1 0 1.60 0a0.8 0.8 0 1 0 -1.60 0M445.60 143.50a0.8 0.8 0 1 0 1.60 0a0.8 0.8 0 1 0 -1.60 0M449.20 143.50a0.8 0.8 0 1 0 1.60 0a0.8 0.8 0 1 0 -1.60 0M418.60 145.25a0.8 0.8 0 1 0 1.60 0a0.8 0.8 0 1 0 -1.60 0M422.20 145.25a0.8 0.8 0 1 0 1.60 0a0.8 0.8 0 1 0 -1.60 0M425.80 145.25a0.8 0.8 0 1 0 1.60 0a0.8 0.8 0 1 0 -1.60 0M429.40 145.25a0.8 0.8 0 1 0 1.60 0a0.8 0.8 0 1 0 -1.60 0M433.00 145.25a0.8 0.8 0 1 0 1.60 0a0.8 0.8 0 1 0 -1.60 0M436.60 145.25a0.8 0.8 0 1 0 1.60 0a0.8 0.8 0 1 0 -1.60 0M440.20 145.25a0.8 0.8 0 1 0 1.60 0a0.8 0.8 0 1 0 -1.60 0M443.80 145.25a0.8 0.8 0 1 0 1.60 0a0.8 0.8 0 1 0 -1.60 0M447.40 145.25a0.8 0.8 0 1 0 1.60 0a0.8 0.8 0 1 0 -1.60 0M420.40 147.00a0.8 0.8 0 1 0 1.60 0a0.8 0.8 0 1 0 -1.60 0M424.00 147.00a0.8 0.8 0 1 0 1.60 0a0.8 0.8 0 1 0 -1.60 0M427.60 147.00a0.8 0.8 0 1 0 1.60 0a0.8 0.8 0 1 0 -1.60 0M431.20 147.00a0.8 0.8 0 1 0 1.60 0a0.8 0.8 0 1 0 -1.60 0M434.80 147.00a0.8 0.8 0 1 0 1.60 0a0.8 0.8 0 1 0 -1.60 0M438.40 147.00a0.8 0.8 0 1 0 1.60 0a0.8 0.8 0 1 0 -1.60 0M442.00 147.00a0.8 0.8 0 1 0 1.60 0a0.8 0.8 0 1 0 -1.60 0M445.60 147.00a0.8 0.8 0 1 0 1.60 0a0.8 0.8 0 1 0 -1.60 0M449.20 147.00a0.8 0.8 0 1 0 1.60 0a0.8 0.8 0 1 0 -1.60 0M418.60 148.75a0.8 0.8 0 1 0 1.60 0a0.8 0.8 0 1 0 -1.60 0M422.20 148.75a0.8 0.8 0 1 0 1.60 0a0.8 0.8 0 1 0 -1.60 0M425.80 148.75a0.8 0.8 0 1 0 1.60 0a0.8 0.8 0 1 0 -1.60 0M429.40 148.75a0.8 0.8 0 1 0 1.60 0a0.8 0.8 0 1 0 -1.60 0M433.00 148.75a0.8 0.8 0 1 0 1.60 0a0.8 0.8 0 1 0 -1.60 0M436.60 148.75a0.8 0.8 0 1 0 1.60 0a0.8 0.8 0 1 0 -1.60 0M440.20 148.75a0.8 0.8 0 1 0 1.60 0a0.8 0.8 0 1 0 -1.60 0M443.80 148.75a0.8 0.8 0 1 0 1.60 0a0.8 0.8 0 1 0 -1.60 0M447.40 148.75a0.8 0.8 0 1 0 1.60 0a0.8 0.8 0 1 0 -1.60 0M420.40 150.50a0.8 0.8 0 1 0 1.60 0a0.8 0.8 0 1 0 -1.60 0M424.00 150.50a0.8 0.8 0 1 0 1.60 0a0.8 0.8 0 1 0 -1.60 0M427.60 150.50a0.8 0.8 0 1 0 1.60 0a0.8 0.8 0 1 0 -1.60 0M431.20 150.50a0.8 0.8 0 1 0 1.60 0a0.8 0.8 0 1 0 -1.60 0M434.80 150.50a0.8 0.8 0 1 0 1.60 0a0.8 0.8 0 1 0 -1.60 0M438.40 150.50a0.8 0.8 0 1 0 1.60 0a0.8 0.8 0 1 0 -1.60 0M442.00 150.50a0.8 0.8 0 1 0 1.60 0a0.8 0.8 0 1 0 -1.60 0M445.60 150.50a0.8 0.8 0 1 0 1.60 0a0.8 0.8 0 1 0 -1.60 0M449.20 150.50a0.8 0.8 0 1 0 1.60 0a0.8 0.8 0 1 0 -1.60 0M418.60 152.25a0.8 0.8 0 1 0 1.60 0a0.8 0.8 0 1 0 -1.60 0M422.20 152.25a0.8 0.8 0 1 0 1.60 0a0.8 0.8 0 1 0 -1.60 0M425.80 152.25a0.8 0.8 0 1 0 1.60 0a0.8 0.8 0 1 0 -1.60 0M429.40 152.25a0.8 0.8 0 1 0 1.60 0a0.8 0.8 0 1 0 -1.60 0M433.00 152.25a0.8 0.8 0 1 0 1.60 0a0.8 0.8 0 1 0 -1.60 0M436.60 152.25a0.8 0.8 0 1 0 1.60 0a0.8 0.8 0 1 0 -1.60 0M440.20 152.25a0.8 0.8 0 1 0 1.60 0a0.8 0.8 0 1 0 -1.60 0M443.80 152.25a0.8 0.8 0 1 0 1.60 0a0.8 0.8 0 1 0 -1.60 0M447.40 152.25a0.8 0.8 0 1 0 1.60 0a0.8 0.8 0 1 0 -1.60 0M420.40 154.00a0.8 0.8 0 1 0 1.60 0a0.8 0.8 0 1 0 -1.60 0M424.00 154.00a0.8 0.8 0 1 0 1.60 0a0.8 0.8 0 1 0 -1.60 0M427.60 154.00a0.8 0.8 0 1 0 1.60 0a0.8 0.8 0 1 0 -1.60 0M431.20 154.00a0.8 0.8 0 1 0 1.60 0a0.8 0.8 0 1 0 -1.60 0M434.80 154.00a0.8 0.8 0 1 0 1.60 0a0.8 0.8 0 1 0 -1.60 0M438.40 154.00a0.8 0.8 0 1 0 1.60 0a0.8 0.8 0 1 0 -1.60 0M442.00 154.00a0.8 0.8 0 1 0 1.60 0a0.8 0.8 0 1 0 -1.60 0M445.60 154.00a0.8 0.8 0 1 0 1.60 0a0.8 0.8 0 1 0 -1.60 0M449.20 154.00a0.8 0.8 0 1 0 1.60 0a0.8 0.8 0 1 0 -1.60 0M418.60 155.75a0.8 0.8 0 1 0 1.60 0a0.8 0.8 0 1 0 -1.60 0M422.20 155.75a0.8 0.8 0 1 0 1.60 0a0.8 0.8 0 1 0 -1.60 0M425.80 155.75a0.8 0.8 0 1 0 1.60 0a0.8 0.8 0 1 0 -1.60 0M429.40 155.75a0.8 0.8 0 1 0 1.60 0a0.8 0.8 0 1 0 -1.60 0M433.00 155.75a0.8 0.8 0 1 0 1.60 0a0.8 0.8 0 1 0 -1.60 0M436.60 155.75a0.8 0.8 0 1 0 1.60 0a0.8 0.8 0 1 0 -1.60 0M440.20 155.75a0.8 0.8 0 1 0 1.60 0a0.8 0.8 0 1 0 -1.60 0M443.80 155.75a0.8 0.8 0 1 0 1.60 0a0.8 0.8 0 1 0 -1.60 0M447.40 155.75a0.8 0.8 0 1 0 1.60 0a0.8 0.8 0 1 0 -1.60 0M420.40 157.50a0.8 0.8 0 1 0 1.60 0a0.8 0.8 0 1 0 -1.60 0M424.00 157.50a0.8 0.8 0 1 0 1.60 0a0.8 0.8 0 1 0 -1.60 0M427.60 157.50a0.8 0.8 0 1 0 1.60 0a0.8 0.8 0 1 0 -1.60 0M431.20 157.50a0.8 0.8 0 1 0 1.60 0a0.8 0.8 0 1 0 -1.60 0M434.80 157.50a0.8 0.8 0 1 0 1.60 0a0.8 0.8 0 1 0 -1.60 0M438.40 157.50a0.8 0.8 0 1 0 1.60 0a0.8 0.8 0 1 0 -1.60 0M442.00 157.50a0.8 0.8 0 1 0 1.60 0a0.8 0.8 0 1 0 -1.60 0M445.60 157.50a0.8 0.8 0 1 0 1.60 0a0.8 0.8 0 1 0 -1.60 0M449.20 157.50a0.8 0.8 0 1 0 1.60 0a0.8 0.8 0 1 0 -1.60 0M418.60 159.25a0.8 0.8 0 1 0 1.60 0a0.8 0.8 0 1 0 -1.60 0M422.20 159.25a0.8 0.8 0 1 0 1.60 0a0.8 0.8 0 1 0 -1.60 0M425.80 159.25a0.8 0.8 0 1 0 1.60 0a0.8 0.8 0 1 0 -1.60 0M429.40 159.25a0.8 0.8 0 1 0 1.60 0a0.8 0.8 0 1 0 -1.60 0M433.00 159.25a0.8 0.8 0 1 0 1.60 0a0.8 0.8 0 1 0 -1.60 0M436.60 159.25a0.8 0.8 0 1 0 1.60 0a0.8 0.8 0 1 0 -1.60 0M440.20 159.25a0.8 0.8 0 1 0 1.60 0a0.8 0.8 0 1 0 -1.60 0M443.80 159.25a0.8 0.8 0 1 0 1.60 0a0.8 0.8 0 1 0 -1.60 0M447.40 159.25a0.8 0.8 0 1 0 1.60 0a0.8 0.8 0 1 0 -1.60 0M420.40 161.00a0.8 0.8 0 1 0 1.60 0a0.8 0.8 0 1 0 -1.60 0M424.00 161.00a0.8 0.8 0 1 0 1.60 0a0.8 0.8 0 1 0 -1.60 0M427.60 161.00a0.8 0.8 0 1 0 1.60 0a0.8 0.8 0 1 0 -1.60 0M431.20 161.00a0.8 0.8 0 1 0 1.60 0a0.8 0.8 0 1 0 -1.60 0M434.80 161.00a0.8 0.8 0 1 0 1.60 0a0.8 0.8 0 1 0 -1.60 0M438.40 161.00a0.8 0.8 0 1 0 1.60 0a0.8 0.8 0 1 0 -1.60 0M442.00 161.00a0.8 0.8 0 1 0 1.60 0a0.8 0.8 0 1 0 -1.60 0M445.60 161.00a0.8 0.8 0 1 0 1.60 0a0.8 0.8 0 1 0 -1.60 0M449.20 161.00a0.8 0.8 0 1 0 1.60 0a0.8 0.8 0 1 0 -1.60 0M418.60 162.75a0.8 0.8 0 1 0 1.60 0a0.8 0.8 0 1 0 -1.60 0M422.20 162.75a0.8 0.8 0 1 0 1.60 0a0.8 0.8 0 1 0 -1.60 0M425.80 162.75a0.8 0.8 0 1 0 1.60 0a0.8 0.8 0 1 0 -1.60 0M429.40 162.75a0.8 0.8 0 1 0 1.60 0a0.8 0.8 0 1 0 -1.60 0M433.00 162.75a0.8 0.8 0 1 0 1.60 0a0.8 0.8 0 1 0 -1.60 0M436.60 162.75a0.8 0.8 0 1 0 1.60 0a0.8 0.8 0 1 0 -1.60 0M440.20 162.75a0.8 0.8 0 1 0 1.60 0a0.8 0.8 0 1 0 -1.60 0M443.80 162.75a0.8 0.8 0 1 0 1.60 0a0.8 0.8 0 1 0 -1.60 0M447.40 162.75a0.8 0.8 0 1 0 1.60 0a0.8 0.8 0 1 0 -1.60 0M420.40 164.50a0.8 0.8 0 1 0 1.60 0a0.8 0.8 0 1 0 -1.60 0M424.00 164.50a0.8 0.8 0 1 0 1.60 0a0.8 0.8 0 1 0 -1.60 0M427.60 164.50a0.8 0.8 0 1 0 1.60 0a0.8 0.8 0 1 0 -1.60 0M431.20 164.50a0.8 0.8 0 1 0 1.60 0a0.8 0.8 0 1 0 -1.60 0M434.80 164.50a0.8 0.8 0 1 0 1.60 0a0.8 0.8 0 1 0 -1.60 0M438.40 164.50a0.8 0.8 0 1 0 1.60 0a0.8 0.8 0 1 0 -1.60 0M442.00 164.50a0.8 0.8 0 1 0 1.60 0a0.8 0.8 0 1 0 -1.60 0M445.60 164.50a0.8 0.8 0 1 0 1.60 0a0.8 0.8 0 1 0 -1.60 0M449.20 164.50a0.8 0.8 0 1 0 1.60 0a0.8 0.8 0 1 0 -1.60 0M418.60 166.25a0.8 0.8 0 1 0 1.60 0a0.8 0.8 0 1 0 -1.60 0M422.20 166.25a0.8 0.8 0 1 0 1.60 0a0.8 0.8 0 1 0 -1.60 0M425.80 166.25a0.8 0.8 0 1 0 1.60 0a0.8 0.8 0 1 0 -1.60 0M429.40 166.25a0.8 0.8 0 1 0 1.60 0a0.8 0.8 0 1 0 -1.60 0M433.00 166.25a0.8 0.8 0 1 0 1.60 0a0.8 0.8 0 1 0 -1.60 0M436.60 166.25a0.8 0.8 0 1 0 1.60 0a0.8 0.8 0 1 0 -1.60 0M440.20 166.25a0.8 0.8 0 1 0 1.60 0a0.8 0.8 0 1 0 -1.60 0M443.80 166.25a0.8 0.8 0 1 0 1.60 0a0.8 0.8 0 1 0 -1.60 0M447.40 166.25a0.8 0.8 0 1 0 1.60 0a0.8 0.8 0 1 0 -1.60 0M420.40 168.00a0.8 0.8 0 1 0 1.60 0a0.8 0.8 0 1 0 -1.60 0M424.00 168.00a0.8 0.8 0 1 0 1.60 0a0.8 0.8 0 1 0 -1.60 0M427.60 168.00a0.8 0.8 0 1 0 1.60 0a0.8 0.8 0 1 0 -1.60 0M431.20 168.00a0.8 0.8 0 1 0 1.60 0a0.8 0.8 0 1 0 -1.60 0M434.80 168.00a0.8 0.8 0 1 0 1.60 0a0.8 0.8 0 1 0 -1.60 0M438.40 168.00a0.8 0.8 0 1 0 1.60 0a0.8 0.8 0 1 0 -1.60 0M442.00 168.00a0.8 0.8 0 1 0 1.60 0a0.8 0.8 0 1 0 -1.60 0M445.60 168.00a0.8 0.8 0 1 0 1.60 0a0.8 0.8 0 1 0 -1.60 0M449.20 168.00a0.8 0.8 0 1 0 1.60 0a0.8 0.8 0 1 0 -1.60 0M418.60 169.75a0.8 0.8 0 1 0 1.60 0a0.8 0.8 0 1 0 -1.60 0M422.20 169.75a0.8 0.8 0 1 0 1.60 0a0.8 0.8 0 1 0 -1.60 0M425.80 169.75a0.8 0.8 0 1 0 1.60 0a0.8 0.8 0 1 0 -1.60 0M429.40 169.75a0.8 0.8 0 1 0 1.60 0a0.8 0.8 0 1 0 -1.60 0M433.00 169.75a0.8 0.8 0 1 0 1.60 0a0.8 0.8 0 1 0 -1.60 0M436.60 169.75a0.8 0.8 0 1 0 1.60 0a0.8 0.8 0 1 0 -1.60 0M440.20 169.75a0.8 0.8 0 1 0 1.60 0a0.8 0.8 0 1 0 -1.60 0M443.80 169.75a0.8 0.8 0 1 0 1.60 0a0.8 0.8 0 1 0 -1.60 0M447.40 169.75a0.8 0.8 0 1 0 1.60 0a0.8 0.8 0 1 0 -1.60 0M420.40 171.50a0.8 0.8 0 1 0 1.60 0a0.8 0.8 0 1 0 -1.60 0M424.00 171.50a0.8 0.8 0 1 0 1.60 0a0.8 0.8 0 1 0 -1.60 0M427.60 171.50a0.8 0.8 0 1 0 1.60 0a0.8 0.8 0 1 0 -1.60 0M431.20 171.50a0.8 0.8 0 1 0 1.60 0a0.8 0.8 0 1 0 -1.60 0M434.80 171.50a0.8 0.8 0 1 0 1.60 0a0.8 0.8 0 1 0 -1.60 0M438.40 171.50a0.8 0.8 0 1 0 1.60 0a0.8 0.8 0 1 0 -1.60 0M442.00 171.50a0.8 0.8 0 1 0 1.60 0a0.8 0.8 0 1 0 -1.60 0M445.60 171.50a0.8 0.8 0 1 0 1.60 0a0.8 0.8 0 1 0 -1.60 0M449.20 171.50a0.8 0.8 0 1 0 1.60 0a0.8 0.8 0 1 0 -1.60 0M418.60 173.25a0.8 0.8 0 1 0 1.60 0a0.8 0.8 0 1 0 -1.60 0M422.20 173.25a0.8 0.8 0 1 0 1.60 0a0.8 0.8 0 1 0 -1.60 0M425.80 173.25a0.8 0.8 0 1 0 1.60 0a0.8 0.8 0 1 0 -1.60 0M429.40 173.25a0.8 0.8 0 1 0 1.60 0a0.8 0.8 0 1 0 -1.60 0M433.00 173.25a0.8 0.8 0 1 0 1.60 0a0.8 0.8 0 1 0 -1.60 0M436.60 173.25a0.8 0.8 0 1 0 1.60 0a0.8 0.8 0 1 0 -1.60 0M440.20 173.25a0.8 0.8 0 1 0 1.60 0a0.8 0.8 0 1 0 -1.60 0M443.80 173.25a0.8 0.8 0 1 0 1.60 0a0.8 0.8 0 1 0 -1.60 0M447.40 173.25a0.8 0.8 0 1 0 1.60 0a0.8 0.8 0 1 0 -1.60 0M420.40 175.00a0.8 0.8 0 1 0 1.60 0a0.8 0.8 0 1 0 -1.60 0M424.00 175.00a0.8 0.8 0 1 0 1.60 0a0.8 0.8 0 1 0 -1.60 0M427.60 175.00a0.8 0.8 0 1 0 1.60 0a0.8 0.8 0 1 0 -1.60 0M431.20 175.00a0.8 0.8 0 1 0 1.60 0a0.8 0.8 0 1 0 -1.60 0M434.80 175.00a0.8 0.8 0 1 0 1.60 0a0.8 0.8 0 1 0 -1.60 0M438.40 175.00a0.8 0.8 0 1 0 1.60 0a0.8 0.8 0 1 0 -1.60 0M442.00 175.00a0.8 0.8 0 1 0 1.60 0a0.8 0.8 0 1 0 -1.60 0M445.60 175.00a0.8 0.8 0 1 0 1.60 0a0.8 0.8 0 1 0 -1.60 0M449.20 175.00a0.8 0.8 0 1 0 1.60 0a0.8 0.8 0 1 0 -1.60 0M418.60 176.75a0.8 0.8 0 1 0 1.60 0a0.8 0.8 0 1 0 -1.60 0M422.20 176.75a0.8 0.8 0 1 0 1.60 0a0.8 0.8 0 1 0 -1.60 0M425.80 176.75a0.8 0.8 0 1 0 1.60 0a0.8 0.8 0 1 0 -1.60 0M429.40 176.75a0.8 0.8 0 1 0 1.60 0a0.8 0.8 0 1 0 -1.60 0M433.00 176.75a0.8 0.8 0 1 0 1.60 0a0.8 0.8 0 1 0 -1.60 0M436.60 176.75a0.8 0.8 0 1 0 1.60 0a0.8 0.8 0 1 0 -1.60 0M440.20 176.75a0.8 0.8 0 1 0 1.60 0a0.8 0.8 0 1 0 -1.60 0M443.80 176.75a0.8 0.8 0 1 0 1.60 0a0.8 0.8 0 1 0 -1.60 0M447.40 176.75a0.8 0.8 0 1 0 1.60 0a0.8 0.8 0 1 0 -1.60 0M420.40 178.50a0.8 0.8 0 1 0 1.60 0a0.8 0.8 0 1 0 -1.60 0M424.00 178.50a0.8 0.8 0 1 0 1.60 0a0.8 0.8 0 1 0 -1.60 0M427.60 178.50a0.8 0.8 0 1 0 1.60 0a0.8 0.8 0 1 0 -1.60 0M431.20 178.50a0.8 0.8 0 1 0 1.60 0a0.8 0.8 0 1 0 -1.60 0M434.80 178.50a0.8 0.8 0 1 0 1.60 0a0.8 0.8 0 1 0 -1.60 0M438.40 178.50a0.8 0.8 0 1 0 1.60 0a0.8 0.8 0 1 0 -1.60 0M442.00 178.50a0.8 0.8 0 1 0 1.60 0a0.8 0.8 0 1 0 -1.60 0M445.60 178.50a0.8 0.8 0 1 0 1.60 0a0.8 0.8 0 1 0 -1.60 0M449.20 178.50a0.8 0.8 0 1 0 1.60 0a0.8 0.8 0 1 0 -1.60 0M418.60 180.25a0.8 0.8 0 1 0 1.60 0a0.8 0.8 0 1 0 -1.60 0M422.20 180.25a0.8 0.8 0 1 0 1.60 0a0.8 0.8 0 1 0 -1.60 0M425.80 180.25a0.8 0.8 0 1 0 1.60 0a0.8 0.8 0 1 0 -1.60 0M429.40 180.25a0.8 0.8 0 1 0 1.60 0a0.8 0.8 0 1 0 -1.60 0M433.00 180.25a0.8 0.8 0 1 0 1.60 0a0.8 0.8 0 1 0 -1.60 0M436.60 180.25a0.8 0.8 0 1 0 1.60 0a0.8 0.8 0 1 0 -1.60 0M440.20 180.25a0.8 0.8 0 1 0 1.60 0a0.8 0.8 0 1 0 -1.60 0M443.80 180.25a0.8 0.8 0 1 0 1.60 0a0.8 0.8 0 1 0 -1.60 0M447.40 180.25a0.8 0.8 0 1 0 1.60 0a0.8 0.8 0 1 0 -1.60 0M420.40 182.00a0.8 0.8 0 1 0 1.60 0a0.8 0.8 0 1 0 -1.60 0M424.00 182.00a0.8 0.8 0 1 0 1.60 0a0.8 0.8 0 1 0 -1.60 0M427.60 182.00a0.8 0.8 0 1 0 1.60 0a0.8 0.8 0 1 0 -1.60 0M431.20 182.00a0.8 0.8 0 1 0 1.60 0a0.8 0.8 0 1 0 -1.60 0M434.80 182.00a0.8 0.8 0 1 0 1.60 0a0.8 0.8 0 1 0 -1.60 0M438.40 182.00a0.8 0.8 0 1 0 1.60 0a0.8 0.8 0 1 0 -1.60 0M442.00 182.00a0.8 0.8 0 1 0 1.60 0a0.8 0.8 0 1 0 -1.60 0M445.60 182.00a0.8 0.8 0 1 0 1.60 0a0.8 0.8 0 1 0 -1.60 0M449.20 182.00a0.8 0.8 0 1 0 1.60 0a0.8 0.8 0 1 0 -1.60 0M418.60 183.75a0.8 0.8 0 1 0 1.60 0a0.8 0.8 0 1 0 -1.60 0M422.20 183.75a0.8 0.8 0 1 0 1.60 0a0.8 0.8 0 1 0 -1.60 0M425.80 183.75a0.8 0.8 0 1 0 1.60 0a0.8 0.8 0 1 0 -1.60 0M429.40 183.75a0.8 0.8 0 1 0 1.60 0a0.8 0.8 0 1 0 -1.60 0M433.00 183.75a0.8 0.8 0 1 0 1.60 0a0.8 0.8 0 1 0 -1.60 0M436.60 183.75a0.8 0.8 0 1 0 1.60 0a0.8 0.8 0 1 0 -1.60 0M440.20 183.75a0.8 0.8 0 1 0 1.60 0a0.8 0.8 0 1 0 -1.60 0M443.80 183.75a0.8 0.8 0 1 0 1.60 0a0.8 0.8 0 1 0 -1.60 0M447.40 183.75a0.8 0.8 0 1 0 1.60 0a0.8 0.8 0 1 0 -1.60 0M420.40 185.50a0.8 0.8 0 1 0 1.60 0a0.8 0.8 0 1 0 -1.60 0M424.00 185.50a0.8 0.8 0 1 0 1.60 0a0.8 0.8 0 1 0 -1.60 0M427.60 185.50a0.8 0.8 0 1 0 1.60 0a0.8 0.8 0 1 0 -1.60 0M431.20 185.50a0.8 0.8 0 1 0 1.60 0a0.8 0.8 0 1 0 -1.60 0M434.80 185.50a0.8 0.8 0 1 0 1.60 0a0.8 0.8 0 1 0 -1.60 0M438.40 185.50a0.8 0.8 0 1 0 1.60 0a0.8 0.8 0 1 0 -1.60 0M442.00 185.50a0.8 0.8 0 1 0 1.60 0a0.8 0.8 0 1 0 -1.60 0M445.60 185.50a0.8 0.8 0 1 0 1.60 0a0.8 0.8 0 1 0 -1.60 0M449.20 185.50a0.8 0.8 0 1 0 1.60 0a0.8 0.8 0 1 0 -1.60 0M418.60 187.25a0.8 0.8 0 1 0 1.60 0a0.8 0.8 0 1 0 -1.60 0M422.20 187.25a0.8 0.8 0 1 0 1.60 0a0.8 0.8 0 1 0 -1.60 0M425.80 187.25a0.8 0.8 0 1 0 1.60 0a0.8 0.8 0 1 0 -1.60 0M429.40 187.25a0.8 0.8 0 1 0 1.60 0a0.8 0.8 0 1 0 -1.60 0M433.00 187.25a0.8 0.8 0 1 0 1.60 0a0.8 0.8 0 1 0 -1.60 0M436.60 187.25a0.8 0.8 0 1 0 1.60 0a0.8 0.8 0 1 0 -1.60 0M440.20 187.25a0.8 0.8 0 1 0 1.60 0a0.8 0.8 0 1 0 -1.60 0M443.80 187.25a0.8 0.8 0 1 0 1.60 0a0.8 0.8 0 1 0 -1.60 0M447.40 187.25a0.8 0.8 0 1 0 1.60 0a0.8 0.8 0 1 0 -1.60 0M420.40 189.00a0.8 0.8 0 1 0 1.60 0a0.8 0.8 0 1 0 -1.60 0M424.00 189.00a0.8 0.8 0 1 0 1.60 0a0.8 0.8 0 1 0 -1.60 0M427.60 189.00a0.8 0.8 0 1 0 1.60 0a0.8 0.8 0 1 0 -1.60 0M431.20 189.00a0.8 0.8 0 1 0 1.60 0a0.8 0.8 0 1 0 -1.60 0M434.80 189.00a0.8 0.8 0 1 0 1.60 0a0.8 0.8 0 1 0 -1.60 0M438.40 189.00a0.8 0.8 0 1 0 1.60 0a0.8 0.8 0 1 0 -1.60 0M442.00 189.00a0.8 0.8 0 1 0 1.60 0a0.8 0.8 0 1 0 -1.60 0M445.60 189.00a0.8 0.8 0 1 0 1.60 0a0.8 0.8 0 1 0 -1.60 0M449.20 189.00a0.8 0.8 0 1 0 1.60 0a0.8 0.8 0 1 0 -1.60 0M418.60 190.75a0.8 0.8 0 1 0 1.60 0a0.8 0.8 0 1 0 -1.60 0M422.20 190.75a0.8 0.8 0 1 0 1.60 0a0.8 0.8 0 1 0 -1.60 0M425.80 190.75a0.8 0.8 0 1 0 1.60 0a0.8 0.8 0 1 0 -1.60 0M429.40 190.75a0.8 0.8 0 1 0 1.60 0a0.8 0.8 0 1 0 -1.60 0M433.00 190.75a0.8 0.8 0 1 0 1.60 0a0.8 0.8 0 1 0 -1.60 0M436.60 190.75a0.8 0.8 0 1 0 1.60 0a0.8 0.8 0 1 0 -1.60 0M440.20 190.75a0.8 0.8 0 1 0 1.60 0a0.8 0.8 0 1 0 -1.60 0M443.80 190.75a0.8 0.8 0 1 0 1.60 0a0.8 0.8 0 1 0 -1.60 0M447.40 190.75a0.8 0.8 0 1 0 1.60 0a0.8 0.8 0 1 0 -1.60 0M420.40 192.50a0.8 0.8 0 1 0 1.60 0a0.8 0.8 0 1 0 -1.60 0M424.00 192.50a0.8 0.8 0 1 0 1.60 0a0.8 0.8 0 1 0 -1.60 0M427.60 192.50a0.8 0.8 0 1 0 1.60 0a0.8 0.8 0 1 0 -1.60 0M431.20 192.50a0.8 0.8 0 1 0 1.60 0a0.8 0.8 0 1 0 -1.60 0M434.80 192.50a0.8 0.8 0 1 0 1.60 0a0.8 0.8 0 1 0 -1.60 0M438.40 192.50a0.8 0.8 0 1 0 1.60 0a0.8 0.8 0 1 0 -1.60 0M442.00 192.50a0.8 0.8 0 1 0 1.60 0a0.8 0.8 0 1 0 -1.60 0M445.60 192.50a0.8 0.8 0 1 0 1.60 0a0.8 0.8 0 1 0 -1.60 0M449.20 192.50a0.8 0.8 0 1 0 1.60 0a0.8 0.8 0 1 0 -1.60 0" fill="#808080" stroke="none"/></g>
<rect x="426.15" y="144.8" width="18.10" height="44.40" fill="none" />
<line x1="426.15" y1="163.3" x2="444.25" y2="163.3" />
<polyline fill="none" points="88.4,44.6 88.4,34.2 144.8,34.2 144.8,44.6" />
<polyline fill="none" points="86.6,74.7 86.6,64.7 115.3,64.7 115.3,74.7" />
<polyline fill="none" points="120.1,74.8 120.1,64.6 173.7,64.6 173.7,74.8" />
<polyline fill="none" points="144.5,98.6 144.5,88.3 173.4,88.3 173.4,98.6" />
<polyline fill="none" points="218.5,50.3 218.5,40.1 275.3,40.1 275.3,50.3" />
<polyline fill="none" points="217.1,77.2 217.1,67.1 246.2,67.1 246.2,77.2" />
<polyline fill="none" points="250.4,77.3 250.4,67.1 307.1,67.1 307.1,77.3" />
<polyline fill="none" points="276.2,108.6 276.2,98.4 305.1,98.4 305.1,108.6" />
<polyline fill="none" points="350.3,26.0 350.3,15.8 407.1,15.8 407.1,26.0" />
<polyline fill="none" points="350.5,56.4 350.5,46.4 379.3,46.4 379.3,56.4" />
<polyline fill="none" points="383.8,56.2 383.8,46.5 436.6,46.5 436.6,56.2" />
<polyline fill="none" points="406.0,113.6 406.0,103.4 434.9,103.4 434.9,113.6" />
</g>
<g font-size="23.5" font-weight="normal" fill="#000" stroke="#000" stroke-width="0.42" id="stars">
<text transform="translate(99.68,33.58) scale(1,0.92)" text-anchor="middle">*</text>
<text transform="translate(110.73,33.58) scale(1,0.92)" text-anchor="middle">*</text>
<text transform="translate(121.28,33.58) scale(1,0.92)" text-anchor="middle">*</text>
<text transform="translate(131.88,33.58) scale(1,0.92)" text-anchor="middle">*</text>
<text transform="translate(96.13,64.08) scale(1,0.92)" text-anchor="middle">*</text>
<text transform="translate(106.93,64.08) scale(1,0.92)" text-anchor="middle">*</text>
<text transform="translate(137.18,64.13) scale(1,0.92)" text-anchor="middle">*</text>
<text transform="translate(147.88,64.13) scale(1,0.92)" text-anchor="middle">*</text>
<text transform="translate(158.88,64.13) scale(1,0.92)" text-anchor="middle">*</text>
<text transform="translate(158.43,87.08) scale(1,0.92)" text-anchor="middle">*</text>
<text transform="translate(241.68,38.83) scale(1,0.92)" text-anchor="middle">*</text>
<text transform="translate(252.58,38.83) scale(1,0.92)" text-anchor="middle">*</text>
<text transform="translate(226.38,68.38) scale(1,0.92)" text-anchor="middle">*</text>
<text transform="translate(237.18,68.38) scale(1,0.92)" text-anchor="middle">*</text>
<text transform="translate(273.28,68.68) scale(1,0.92)" text-anchor="middle">*</text>
<text transform="translate(283.88,68.68) scale(1,0.92)" text-anchor="middle">*</text>
<text transform="translate(290.43,97.53) scale(1,0.92)" text-anchor="middle">*</text>
<text transform="translate(378.83,15.78) scale(1,0.92)" text-anchor="middle">*</text>
<text transform="translate(364.68,45.48) scale(1,0.92)" text-anchor="middle">*</text>
<text transform="translate(410.88,45.83) scale(1,0.92)" text-anchor="middle">*</text>
<text transform="translate(420.38,102.88) scale(1,0.92)" text-anchor="middle">*</text>
</g>
<g font-size="20.5" fill="#000" stroke="#000" stroke-width="0.25">
<path transform="translate(36.60,38.38) scale(0.010010,-0.010247)" d="M763 0L583 0L583 1147Q518 1085 412 1023Q306 961 220 930L220 1104Q343 1162 435 1245Q527 1328 565 1406L593 1466L763 1466Z" stroke-width="24.98"/>
<text transform="translate(48.00,38.38) scale(1,1.05)" >0</text>
<text transform="translate(48.00,81.10) scale(1,1.05)" >0</text>
<text transform="translate(29.77,123.82) scale(1,1.05)" >-</text>
<path transform="translate(36.60,123.82) scale(0.010010,-0.010247)" d="M763 0L583 0L583 1147Q518 1085 412 1023Q306 961 220 930L220 1104Q343 1162 435 1245Q527 1328 565 1406L593 1466L763 1466Z" stroke-width="24.98"/>
<text transform="translate(48.00,123.82) scale(1,1.05)" >0</text>
<text transform="translate(29.77,166.53) scale(1,1.05)" >-20</text>
<text transform="translate(29.77,209.25) scale(1,1.05)" >-30</text>
<text transform="translate(29.77,251.97) scale(1,1.05)" >-40</text>
<text transform="translate(29.77,294.69) scale(1,1.05)" >-50</text>
<text transform="translate(124.70,317.60) scale(1,1.05)" >3</text>
<text transform="translate(255.90,317.60) scale(1,1.05)" >7</text>
<path transform="translate(381.40,317.60) scale(0.010010,-0.010247)" d="M763 0L583 0L583 1147Q518 1085 412 1023Q306 961 220 930L220 1104Q343 1162 435 1245Q527 1328 565 1406L593 1466L763 1466Z" stroke-width="24.98"/>
<text transform="translate(392.80,317.60) scale(1,1.05)" >0</text>
</g>
<text transform="translate(206.40,345.90) scale(1,1.05)" font-size="20.8" font-weight="bold" fill="#000" stroke="#000" stroke-width="0.2">Time, days</text>
<text transform="translate(16.2,247.4) rotate(-90) scale(1,1.05)" x="0" y="0" font-size="20.6" font-weight="bold" fill="#000" stroke="#000" stroke-width="0.2">Weight change, %</text>
<rect x="470.10" y="41.60" width="27.20" height="14.30" fill="#fff" stroke="none"/>
<rect x="470.1" y="41.6" width="27.2" height="14.3" fill="none" stroke="#000" stroke-width="1.4"/>
<g clip-path="url(#c7)"><rect x="470.10" y="76.80" width="27.20" height="14.30" fill="#fff" stroke="none"/><path d="M447.70 74.80L466.00 93.10M451.00 74.80L469.30 93.10M454.30 74.80L472.60 93.10M457.60 74.80L475.90 93.10M460.90 74.80L479.20 93.10M464.20 74.80L482.50 93.10M467.50 74.80L485.80 93.10M470.80 74.80L489.10 93.10M474.10 74.80L492.40 93.10M477.40 74.80L495.70 93.10M480.70 74.80L499.00 93.10M484.00 74.80L502.30 93.10M487.30 74.80L505.60 93.10M490.60 74.80L508.90 93.10M493.90 74.80L512.20 93.10M497.20 74.80L515.50 93.10M500.50 74.80L518.80 93.10" stroke="#000" stroke-width="1.15" fill="none"/></g>
<rect x="470.1" y="76.8" width="27.2" height="14.3" fill="none" stroke="#000" stroke-width="1.4"/>
<rect x="470.10" y="112.00" width="27.20" height="14.30" fill="#7d7d7d" stroke="none"/>
<rect x="470.1" y="112.0" width="27.2" height="14.3" fill="none" stroke="#000" stroke-width="1.4"/>
<g clip-path="url(#c8)"><rect x="470.10" y="147.20" width="27.20" height="14.30" fill="#fff" stroke="none"/><path d="M465.40 145.25a0.8 0.8 0 1 0 1.60 0a0.8 0.8 0 1 0 -1.60 0M469.00 145.25a0.8 0.8 0 1 0 1.60 0a0.8 0.8 0 1 0 -1.60 0M472.60 145.25a0.8 0.8 0 1 0 1.60 0a0.8 0.8 0 1 0 -1.60 0M476.20 145.25a0.8 0.8 0 1 0 1.60 0a0.8 0.8 0 1 0 -1.60 0M479.80 145.25a0.8 0.8 0 1 0 1.60 0a0.8 0.8 0 1 0 -1.60 0M483.40 145.25a0.8 0.8 0 1 0 1.60 0a0.8 0.8 0 1 0 -1.60 0M487.00 145.25a0.8 0.8 0 1 0 1.60 0a0.8 0.8 0 1 0 -1.60 0M490.60 145.25a0.8 0.8 0 1 0 1.60 0a0.8 0.8 0 1 0 -1.60 0M494.20 145.25a0.8 0.8 0 1 0 1.60 0a0.8 0.8 0 1 0 -1.60 0M497.80 145.25a0.8 0.8 0 1 0 1.60 0a0.8 0.8 0 1 0 -1.60 0M501.40 145.25a0.8 0.8 0 1 0 1.60 0a0.8 0.8 0 1 0 -1.60 0M463.60 147.00a0.8 0.8 0 1 0 1.60 0a0.8 0.8 0 1 0 -1.60 0M467.20 147.00a0.8 0.8 0 1 0 1.60 0a0.8 0.8 0 1 0 -1.60 0M470.80 147.00a0.8 0.8 0 1 0 1.60 0a0.8 0.8 0 1 0 -1.60 0M474.40 147.00a0.8 0.8 0 1 0 1.60 0a0.8 0.8 0 1 0 -1.60 0M478.00 147.00a0.8 0.8 0 1 0 1.60 0a0.8 0.8 0 1 0 -1.60 0M481.60 147.00a0.8 0.8 0 1 0 1.60 0a0.8 0.8 0 1 0 -1.60 0M485.20 147.00a0.8 0.8 0 1 0 1.60 0a0.8 0.8 0 1 0 -1.60 0M488.80 147.00a0.8 0.8 0 1 0 1.60 0a0.8 0.8 0 1 0 -1.60 0M492.40 147.00a0.8 0.8 0 1 0 1.60 0a0.8 0.8 0 1 0 -1.60 0M496.00 147.00a0.8 0.8 0 1 0 1.60 0a0.8 0.8 0 1 0 -1.60 0M499.60 147.00a0.8 0.8 0 1 0 1.60 0a0.8 0.8 0 1 0 -1.60 0M503.20 147.00a0.8 0.8 0 1 0 1.60 0a0.8 0.8 0 1 0 -1.60 0M465.40 148.75a0.8 0.8 0 1 0 1.60 0a0.8 0.8 0 1 0 -1.60 0M469.00 148.75a0.8 0.8 0 1 0 1.60 0a0.8 0.8 0 1 0 -1.60 0M472.60 148.75a0.8 0.8 0 1 0 1.60 0a0.8 0.8 0 1 0 -1.60 0M476.20 148.75a0.8 0.8 0 1 0 1.60 0a0.8 0.8 0 1 0 -1.60 0M479.80 148.75a0.8 0.8 0 1 0 1.60 0a0.8 0.8 0 1 0 -1.60 0M483.40 148.75a0.8 0.8 0 1 0 1.60 0a0.8 0.8 0 1 0 -1.60 0M487.00 148.75a0.8 0.8 0 1 0 1.60 0a0.8 0.8 0 1 0 -1.60 0M490.60 148.75a0.8 0.8 0 1 0 1.60 0a0.8 0.8 0 1 0 -1.60 0M494.20 148.75a0.8 0.8 0 1 0 1.60 0a0.8 0.8 0 1 0 -1.60 0M497.80 148.75a0.8 0.8 0 1 0 1.60 0a0.8 0.8 0 1 0 -1.60 0M501.40 148.75a0.8 0.8 0 1 0 1.60 0a0.8 0.8 0 1 0 -1.60 0M463.60 150.50a0.8 0.8 0 1 0 1.60 0a0.8 0.8 0 1 0 -1.60 0M467.20 150.50a0.8 0.8 0 1 0 1.60 0a0.8 0.8 0 1 0 -1.60 0M470.80 150.50a0.8 0.8 0 1 0 1.60 0a0.8 0.8 0 1 0 -1.60 0M474.40 150.50a0.8 0.8 0 1 0 1.60 0a0.8 0.8 0 1 0 -1.60 0M478.00 150.50a0.8 0.8 0 1 0 1.60 0a0.8 0.8 0 1 0 -1.60 0M481.60 150.50a0.8 0.8 0 1 0 1.60 0a0.8 0.8 0 1 0 -1.60 0M485.20 150.50a0.8 0.8 0 1 0 1.60 0a0.8 0.8 0 1 0 -1.60 0M488.80 150.50a0.8 0.8 0 1 0 1.60 0a0.8 0.8 0 1 0 -1.60 0M492.40 150.50a0.8 0.8 0 1 0 1.60 0a0.8 0.8 0 1 0 -1.60 0M496.00 150.50a0.8 0.8 0 1 0 1.60 0a0.8 0.8 0 1 0 -1.60 0M499.60 150.50a0.8 0.8 0 1 0 1.60 0a0.8 0.8 0 1 0 -1.60 0M503.20 150.50a0.8 0.8 0 1 0 1.60 0a0.8 0.8 0 1 0 -1.60 0M465.40 152.25a0.8 0.8 0 1 0 1.60 0a0.8 0.8 0 1 0 -1.60 0M469.00 152.25a0.8 0.8 0 1 0 1.60 0a0.8 0.8 0 1 0 -1.60 0M472.60 152.25a0.8 0.8 0 1 0 1.60 0a0.8 0.8 0 1 0 -1.60 0M476.20 152.25a0.8 0.8 0 1 0 1.60 0a0.8 0.8 0 1 0 -1.60 0M479.80 152.25a0.8 0.8 0 1 0 1.60 0a0.8 0.8 0 1 0 -1.60 0M483.40 152.25a0.8 0.8 0 1 0 1.60 0a0.8 0.8 0 1 0 -1.60 0M487.00 152.25a0.8 0.8 0 1 0 1.60 0a0.8 0.8 0 1 0 -1.60 0M490.60 152.25a0.8 0.8 0 1 0 1.60 0a0.8 0.8 0 1 0 -1.60 0M494.20 152.25a0.8 0.8 0 1 0 1.60 0a0.8 0.8 0 1 0 -1.60 0M497.80 152.25a0.8 0.8 0 1 0 1.60 0a0.8 0.8 0 1 0 -1.60 0M501.40 152.25a0.8 0.8 0 1 0 1.60 0a0.8 0.8 0 1 0 -1.60 0M463.60 154.00a0.8 0.8 0 1 0 1.60 0a0.8 0.8 0 1 0 -1.60 0M467.20 154.00a0.8 0.8 0 1 0 1.60 0a0.8 0.8 0 1 0 -1.60 0M470.80 154.00a0.8 0.8 0 1 0 1.60 0a0.8 0.8 0 1 0 -1.60 0M474.40 154.00a0.8 0.8 0 1 0 1.60 0a0.8 0.8 0 1 0 -1.60 0M478.00 154.00a0.8 0.8 0 1 0 1.60 0a0.8 0.8 0 1 0 -1.60 0M481.60 154.00a0.8 0.8 0 1 0 1.60 0a0.8 0.8 0 1 0 -1.60 0M485.20 154.00a0.8 0.8 0 1 0 1.60 0a0.8 0.8 0 1 0 -1.60 0M488.80 154.00a0.8 0.8 0 1 0 1.60 0a0.8 0.8 0 1 0 -1.60 0M492.40 154.00a0.8 0.8 0 1 0 1.60 0a0.8 0.8 0 1 0 -1.60 0M496.00 154.00a0.8 0.8 0 1 0 1.60 0a0.8 0.8 0 1 0 -1.60 0M499.60 154.00a0.8 0.8 0 1 0 1.60 0a0.8 0.8 0 1 0 -1.60 0M503.20 154.00a0.8 0.8 0 1 0 1.60 0a0.8 0.8 0 1 0 -1.60 0M465.40 155.75a0.8 0.8 0 1 0 1.60 0a0.8 0.8 0 1 0 -1.60 0M469.00 155.75a0.8 0.8 0 1 0 1.60 0a0.8 0.8 0 1 0 -1.60 0M472.60 155.75a0.8 0.8 0 1 0 1.60 0a0.8 0.8 0 1 0 -1.60 0M476.20 155.75a0.8 0.8 0 1 0 1.60 0a0.8 0.8 0 1 0 -1.60 0M479.80 155.75a0.8 0.8 0 1 0 1.60 0a0.8 0.8 0 1 0 -1.60 0M483.40 155.75a0.8 0.8 0 1 0 1.60 0a0.8 0.8 0 1 0 -1.60 0M487.00 155.75a0.8 0.8 0 1 0 1.60 0a0.8 0.8 0 1 0 -1.60 0M490.60 155.75a0.8 0.8 0 1 0 1.60 0a0.8 0.8 0 1 0 -1.60 0M494.20 155.75a0.8 0.8 0 1 0 1.60 0a0.8 0.8 0 1 0 -1.60 0M497.80 155.75a0.8 0.8 0 1 0 1.60 0a0.8 0.8 0 1 0 -1.60 0M501.40 155.75a0.8 0.8 0 1 0 1.60 0a0.8 0.8 0 1 0 -1.60 0M463.60 157.50a0.8 0.8 0 1 0 1.60 0a0.8 0.8 0 1 0 -1.60 0M467.20 157.50a0.8 0.8 0 1 0 1.60 0a0.8 0.8 0 1 0 -1.60 0M470.80 157.50a0.8 0.8 0 1 0 1.60 0a0.8 0.8 0 1 0 -1.60 0M474.40 157.50a0.8 0.8 0 1 0 1.60 0a0.8 0.8 0 1 0 -1.60 0M478.00 157.50a0.8 0.8 0 1 0 1.60 0a0.8 0.8 0 1 0 -1.60 0M481.60 157.50a0.8 0.8 0 1 0 1.60 0a0.8 0.8 0 1 0 -1.60 0M485.20 157.50a0.8 0.8 0 1 0 1.60 0a0.8 0.8 0 1 0 -1.60 0M488.80 157.50a0.8 0.8 0 1 0 1.60 0a0.8 0.8 0 1 0 -1.60 0M492.40 157.50a0.8 0.8 0 1 0 1.60 0a0.8 0.8 0 1 0 -1.60 0M496.00 157.50a0.8 0.8 0 1 0 1.60 0a0.8 0.8 0 1 0 -1.60 0M499.60 157.50a0.8 0.8 0 1 0 1.60 0a0.8 0.8 0 1 0 -1.60 0M503.20 157.50a0.8 0.8 0 1 0 1.60 0a0.8 0.8 0 1 0 -1.60 0M465.40 159.25a0.8 0.8 0 1 0 1.60 0a0.8 0.8 0 1 0 -1.60 0M469.00 159.25a0.8 0.8 0 1 0 1.60 0a0.8 0.8 0 1 0 -1.60 0M472.60 159.25a0.8 0.8 0 1 0 1.60 0a0.8 0.8 0 1 0 -1.60 0M476.20 159.25a0.8 0.8 0 1 0 1.60 0a0.8 0.8 0 1 0 -1.60 0M479.80 159.25a0.8 0.8 0 1 0 1.60 0a0.8 0.8 0 1 0 -1.60 0M483.40 159.25a0.8 0.8 0 1 0 1.60 0a0.8 0.8 0 1 0 -1.60 0M487.00 159.25a0.8 0.8 0 1 0 1.60 0a0.8 0.8 0 1 0 -1.60 0M490.60 159.25a0.8 0.8 0 1 0 1.60 0a0.8 0.8 0 1 0 -1.60 0M494.20 159.25a0.8 0.8 0 1 0 1.60 0a0.8 0.8 0 1 0 -1.60 0M497.80 159.25a0.8 0.8 0 1 0 1.60 0a0.8 0.8 0 1 0 -1.60 0M501.40 159.25a0.8 0.8 0 1 0 1.60 0a0.8 0.8 0 1 0 -1.60 0M463.60 161.00a0.8 0.8 0 1 0 1.60 0a0.8 0.8 0 1 0 -1.60 0M467.20 161.00a0.8 0.8 0 1 0 1.60 0a0.8 0.8 0 1 0 -1.60 0M470.80 161.00a0.8 0.8 0 1 0 1.60 0a0.8 0.8 0 1 0 -1.60 0M474.40 161.00a0.8 0.8 0 1 0 1.60 0a0.8 0.8 0 1 0 -1.60 0M478.00 161.00a0.8 0.8 0 1 0 1.60 0a0.8 0.8 0 1 0 -1.60 0M481.60 161.00a0.8 0.8 0 1 0 1.60 0a0.8 0.8 0 1 0 -1.60 0M485.20 161.00a0.8 0.8 0 1 0 1.60 0a0.8 0.8 0 1 0 -1.60 0M488.80 161.00a0.8 0.8 0 1 0 1.60 0a0.8 0.8 0 1 0 -1.60 0M492.40 161.00a0.8 0.8 0 1 0 1.60 0a0.8 0.8 0 1 0 -1.60 0M496.00 161.00a0.8 0.8 0 1 0 1.60 0a0.8 0.8 0 1 0 -1.60 0M499.60 161.00a0.8 0.8 0 1 0 1.60 0a0.8 0.8 0 1 0 -1.60 0M503.20 161.00a0.8 0.8 0 1 0 1.60 0a0.8 0.8 0 1 0 -1.60 0M465.40 162.75a0.8 0.8 0 1 0 1.60 0a0.8 0.8 0 1 0 -1.60 0M469.00 162.75a0.8 0.8 0 1 0 1.60 0a0.8 0.8 0 1 0 -1.60 0M472.60 162.75a0.8 0.8 0 1 0 1.60 0a0.8 0.8 0 1 0 -1.60 0M476.20 162.75a0.8 0.8 0 1 0 1.60 0a0.8 0.8 0 1 0 -1.60 0M479.80 162.75a0.8 0.8 0 1 0 1.60 0a0.8 0.8 0 1 0 -1.60 0M483.40 162.75a0.8 0.8 0 1 0 1.60 0a0.8 0.8 0 1 0 -1.60 0M487.00 162.75a0.8 0.8 0 1 0 1.60 0a0.8 0.8 0 1 0 -1.60 0M490.60 162.75a0.8 0.8 0 1 0 1.60 0a0.8 0.8 0 1 0 -1.60 0M494.20 162.75a0.8 0.8 0 1 0 1.60 0a0.8 0.8 0 1 0 -1.60 0M497.80 162.75a0.8 0.8 0 1 0 1.60 0a0.8 0.8 0 1 0 -1.60 0M501.40 162.75a0.8 0.8 0 1 0 1.60 0a0.8 0.8 0 1 0 -1.60 0M463.60 164.50a0.8 0.8 0 1 0 1.60 0a0.8 0.8 0 1 0 -1.60 0M467.20 164.50a0.8 0.8 0 1 0 1.60 0a0.8 0.8 0 1 0 -1.60 0M470.80 164.50a0.8 0.8 0 1 0 1.60 0a0.8 0.8 0 1 0 -1.60 0M474.40 164.50a0.8 0.8 0 1 0 1.60 0a0.8 0.8 0 1 0 -1.60 0M478.00 164.50a0.8 0.8 0 1 0 1.60 0a0.8 0.8 0 1 0 -1.60 0M481.60 164.50a0.8 0.8 0 1 0 1.60 0a0.8 0.8 0 1 0 -1.60 0M485.20 164.50a0.8 0.8 0 1 0 1.60 0a0.8 0.8 0 1 0 -1.60 0M488.80 164.50a0.8 0.8 0 1 0 1.60 0a0.8 0.8 0 1 0 -1.60 0M492.40 164.50a0.8 0.8 0 1 0 1.60 0a0.8 0.8 0 1 0 -1.60 0M496.00 164.50a0.8 0.8 0 1 0 1.60 0a0.8 0.8 0 1 0 -1.60 0M499.60 164.50a0.8 0.8 0 1 0 1.60 0a0.8 0.8 0 1 0 -1.60 0M503.20 164.50a0.8 0.8 0 1 0 1.60 0a0.8 0.8 0 1 0 -1.60 0" fill="#808080" stroke="none"/></g>
<rect x="470.1" y="147.2" width="27.2" height="14.3" fill="none" stroke="#000" stroke-width="1.4"/>
<g font-size="20.8" fill="#000" stroke="#000" stroke-width="0.25">
<text transform="translate(514.00,56.50) scale(1,1.07)" >WT/Newman</text>
<text transform="translate(514.00,91.60) scale(1,1.07)" >WT/<tspan font-style="italic" font-size="19.5" dx="-2.0">Δ</tspan><tspan font-style="italic" font-size="20.8" dx="-0.2">l<tspan dx="0.6">gt</tspan></tspan></text>
<text transform="translate(514.00,126.70) scale(1,1.07)" >TLR2<tspan font-size="11" dy="-6.3" dx="0.2" letter-spacing="0.3">-/-</tspan><tspan dy="6.3">/Newman</tspan></text>
<text transform="translate(514.00,162.10) scale(1,1.07)" >TLR2<tspan font-size="11" dy="-6.3" dx="0.2" letter-spacing="0.3">-/-</tspan><tspan dy="6.3">/</tspan><tspan font-style="italic" font-size="19.5" dx="-1.0">Δ</tspan><tspan font-style="italic" font-size="20.8" dx="0.3">l<tspan dx="0.4">gt</tspan></tspan></text>
</g>
<defs><clipPath id="c1"><rect x="107.55" y="117.50" width="18.10" height="19.50"/></clipPath><clipPath id="c2"><rect x="163.85" y="137.70" width="18.10" height="26.10"/></clipPath><clipPath id="c3"><rect x="238.55" y="136.50" width="18.10" height="28.80"/></clipPath><clipPath id="c4"><rect x="295.05" y="158.40" width="18.10" height="27.50"/></clipPath><clipPath id="c5"><rect x="369.75" y="127.90" width="18.10" height="40.00"/></clipPath><clipPath id="c6"><rect x="426.15" y="144.80" width="18.10" height="44.40"/></clipPath><clipPath id="c7"><rect x="470.10" y="76.80" width="27.20" height="14.30"/></clipPath><clipPath id="c8"><rect x="470.10" y="147.20" width="27.20" height="14.30"/></clipPath></defs>
</svg>
</body></html>
